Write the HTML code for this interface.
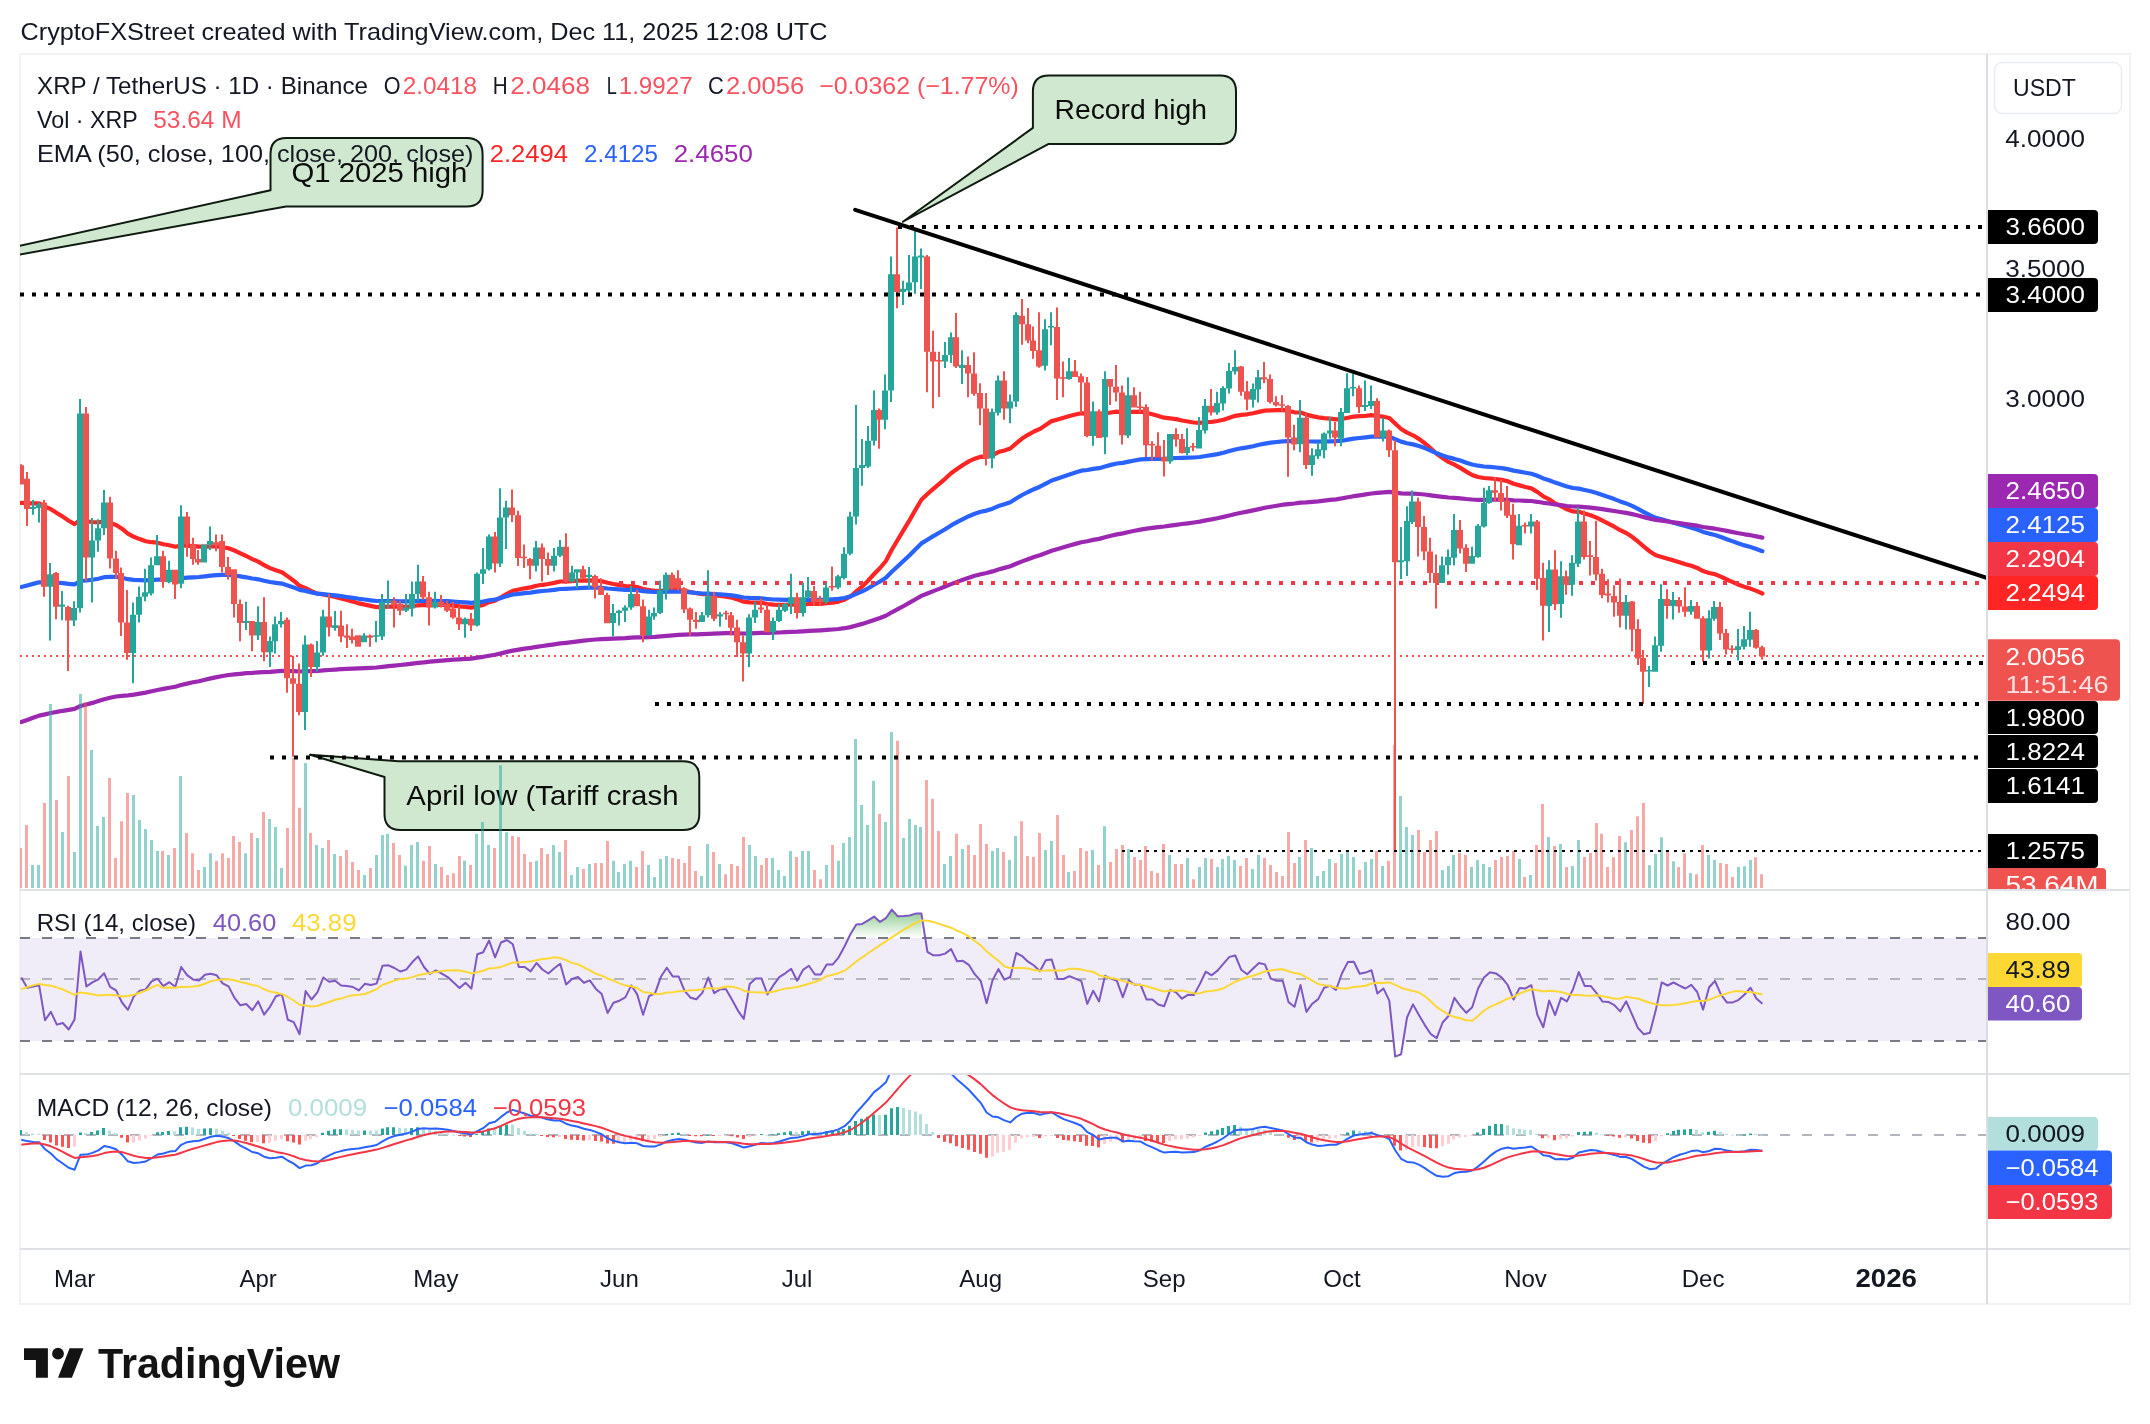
<!DOCTYPE html>
<html><head><meta charset="utf-8"><style>html,body{margin:0;padding:0;background:#fff;width:2150px;height:1424px;overflow:hidden}svg{display:block;will-change:transform}</style></head>
<body><svg width="2150" height="1424" viewBox="0 0 2150 1424" font-family='"Liberation Sans", sans-serif'>
<rect width="2150" height="1424" fill="#ffffff"/>
<defs>
<clipPath id="cpMain"><rect x="20" y="54" width="1966" height="835"/></clipPath>
<clipPath id="cpRsi"><rect x="20" y="891" width="1966" height="182"/></clipPath>
<clipPath id="cpMacd"><rect x="20" y="1075" width="1966" height="173"/></clipPath>
<linearGradient id="gOB" gradientUnits="userSpaceOnUse" x1="0" y1="894.6" x2="0" y2="938"><stop offset="0" stop-color="#4CAF50" stop-opacity="1"/><stop offset="1" stop-color="#4CAF50" stop-opacity="0"/></linearGradient>
<linearGradient id="gOS" x1="0" y1="0" x2="0" y2="1"><stop offset="0" stop-color="#F23645" stop-opacity="0"/><stop offset="1" stop-color="#F23645" stop-opacity="0.55"/></linearGradient>
</defs>
<text x="20.5" y="40.0" font-size="24" fill="#131722" textLength="807.0" lengthAdjust="spacingAndGlyphs">CryptoFXStreet created with TradingView.com, Dec 11, 2025 12:08 UTC</text>
<rect x="20" y="54" width="2110" height="1250" fill="none" stroke="#F2F2F2" stroke-width="2"/>
<rect x="20" y="889" width="2110" height="2" fill="#E0E1E6"/>
<rect x="20" y="1073" width="2110" height="2" fill="#E0E1E6"/>
<rect x="20" y="1248" width="2110" height="2" fill="#E0E1E6"/>
<rect x="1986" y="54" width="2" height="1250" fill="#DCDDE0"/>
<g clip-path="url(#cpMain)">
<path d="M310 754.7 L384.5 777 L384.5 814 Q384.5 830 400.5 830 L683.3 830 Q699.3 830 699.3 814 L699.3 777.2 Q699.3 761.2 683.3 761.2 L398.7 761.2 Z" fill="#D1E8D0" stroke="#0F1A10" stroke-width="2" stroke-linejoin="round"/>
<text x="406.3" y="805.0" font-size="28" fill="#0C0C0C" textLength="272.2" lengthAdjust="spacingAndGlyphs">April low (Tariff crash</text>
</g>
<g clip-path="url(#cpMain)">
<line x1="20" y1="656" x2="1986" y2="656" stroke="#EF5350" stroke-width="2" stroke-dasharray="2 4"/>
<polyline fill="none" stroke="#FF2525" stroke-width="4.2" stroke-linejoin="round" stroke-linecap="round" points="21.3,502.9 27.2,503.1 33.1,503.3 39.1,503.3 45.0,506.6 50.9,509.2 56.8,513.0 62.8,516.6 68.7,520.7 74.6,524.1 80.5,519.8 86.4,521.3 92.4,522.0 98.3,522.3 104.2,521.5 110.1,522.9 116.1,524.9 122.0,528.7 127.9,533.6 133.8,536.8 139.7,539.1 145.7,541.2 151.6,542.2 157.5,542.7 163.4,544.3 169.4,545.3 175.3,546.8 181.2,545.6 187.1,545.6 193.0,546.1 199.0,546.7 204.9,546.6 210.8,546.4 216.7,546.4 222.6,547.2 228.6,548.3 234.5,550.5 240.4,553.3 246.3,556.0 252.3,559.1 258.2,561.6 264.1,565.1 270.0,568.1 275.9,570.3 281.9,572.3 287.8,576.4 293.7,580.7 299.6,585.8 305.6,588.1 311.5,591.2 317.4,593.6 323.3,594.5 329.2,595.8 335.2,596.9 341.1,598.5 347.0,600.0 352.9,601.6 358.9,603.4 364.8,604.6 370.7,605.9 376.6,607.1 382.5,606.9 388.5,606.6 394.4,606.6 400.3,606.7 406.2,606.8 412.2,606.3 418.1,605.3 424.0,605.0 429.9,605.1 435.8,605.0 441.8,605.0 447.7,605.2 453.6,605.7 459.5,606.4 465.5,606.9 471.4,607.6 477.3,606.3 483.2,604.9 489.1,602.2 495.1,600.7 501.0,597.4 506.9,593.9 512.8,590.8 518.8,589.5 524.7,588.3 530.6,587.4 536.5,585.8 542.4,584.8 548.4,584.0 554.3,582.9 560.2,581.5 566.1,581.5 572.0,581.2 578.0,580.7 583.9,580.6 589.8,580.4 595.7,580.6 601.7,581.2 607.6,582.8 613.5,584.0 619.4,585.1 625.3,586.0 631.3,586.3 637.2,587.1 643.1,589.0 649.0,590.0 655.0,590.9 660.9,590.9 666.8,590.3 672.7,590.2 678.6,590.1 684.6,590.9 690.5,592.0 696.4,593.2 702.3,594.1 708.3,594.2 714.2,595.1 720.1,595.9 726.0,596.6 731.9,597.8 737.9,599.5 743.8,601.7 749.7,602.3 755.6,602.6 761.6,602.8 767.5,604.0 773.4,604.7 779.3,604.9 785.2,604.8 791.2,604.5 797.1,604.9 803.0,604.6 808.9,604.0 814.9,603.9 820.8,603.9 826.7,603.2 832.6,602.6 838.5,601.6 844.5,599.7 850.4,596.5 856.3,591.4 862.2,586.5 868.1,580.7 874.1,574.0 880.0,568.0 885.9,561.0 891.8,549.8 897.8,539.7 903.7,529.8 909.6,520.1 915.5,509.8 921.4,499.8 927.4,494.0 933.3,488.8 939.2,483.8 945.1,478.8 951.1,473.2 957.0,469.0 962.9,465.0 968.8,461.4 974.7,458.7 980.7,456.7 986.6,456.8 992.5,455.1 998.4,452.1 1004.4,450.4 1010.3,448.5 1016.2,443.3 1022.1,438.6 1028.0,434.8 1034.0,431.5 1039.9,428.9 1045.8,425.0 1051.7,421.1 1057.7,419.5 1063.6,417.8 1069.5,416.0 1075.4,414.5 1081.3,413.2 1087.3,414.1 1093.2,414.0 1099.1,415.0 1105.0,413.5 1110.9,412.5 1116.9,411.7 1122.8,412.6 1128.7,411.9 1134.6,411.8 1140.6,411.6 1146.5,412.9 1152.4,414.2 1158.3,415.9 1164.2,417.7 1170.2,418.3 1176.1,419.1 1182.0,420.5 1187.9,421.5 1193.9,422.5 1199.8,422.8 1205.7,422.2 1211.6,421.8 1217.5,421.0 1223.5,419.7 1229.4,417.8 1235.3,415.8 1241.2,414.9 1247.2,414.3 1253.1,413.3 1259.0,411.9 1264.9,410.6 1270.8,410.3 1276.8,410.1 1282.7,409.9 1288.6,411.0 1294.5,412.3 1300.5,412.5 1306.4,414.6 1312.3,416.1 1318.2,417.4 1324.1,418.1 1330.1,418.6 1336.0,419.3 1341.9,419.0 1347.8,417.8 1353.8,416.6 1359.7,416.2 1365.6,415.8 1371.5,415.2 1377.4,416.1 1383.4,416.7 1389.3,418.0 1395.2,423.6 1401.1,429.0 1407.0,432.6 1413.0,435.3 1418.9,438.9 1424.8,443.3 1430.7,448.4 1436.7,453.7 1442.6,458.1 1448.5,461.9 1454.4,464.6 1460.3,467.9 1466.3,471.6 1472.2,475.0 1478.1,477.0 1484.0,478.0 1490.0,478.5 1495.9,479.0 1501.8,479.9 1507.7,481.3 1513.6,483.8 1519.6,485.4 1525.5,487.0 1531.4,488.4 1537.3,491.9 1543.3,496.4 1549.2,499.3 1555.1,503.4 1561.0,506.2 1566.9,509.3 1572.9,511.4 1578.8,511.8 1584.7,513.6 1590.6,515.3 1596.6,517.6 1602.5,520.6 1608.4,523.6 1614.3,526.7 1620.2,530.2 1626.2,533.0 1632.1,536.8 1638.0,541.5 1643.9,546.7 1649.9,551.5 1655.8,555.2 1661.7,556.9 1667.6,558.8 1673.5,560.4 1679.5,562.2 1685.4,564.2 1691.3,565.8 1697.2,567.9 1703.1,571.1 1709.1,573.0 1715.0,574.3 1720.9,576.6 1726.8,579.5 1732.8,582.2 1738.7,584.7 1744.6,586.9 1750.5,588.6 1756.4,590.9 1762.4,593.5"/>
<polyline fill="none" stroke="#2962FF" stroke-width="4.2" stroke-linejoin="round" stroke-linecap="round" points="21.3,587.0 27.2,585.5 33.1,583.9 39.1,582.3 45.0,582.4 50.9,582.2 56.8,582.7 62.8,583.2 68.7,583.9 74.6,584.4 80.5,581.0 86.4,580.5 92.4,579.7 98.3,578.7 104.2,577.2 110.1,576.8 116.1,576.8 122.0,577.7 127.9,579.2 133.8,579.9 139.7,580.2 145.7,580.4 151.6,580.1 157.5,579.7 163.4,579.7 169.4,579.5 175.3,579.6 181.2,578.4 187.1,577.7 193.0,577.3 199.0,577.0 204.9,576.4 210.8,575.7 216.7,575.1 222.6,574.9 228.6,574.9 234.5,575.5 240.4,576.4 246.3,577.3 252.3,578.5 258.2,579.3 264.1,580.8 270.0,582.0 275.9,582.8 281.9,583.6 287.8,585.4 293.7,587.4 299.6,589.9 305.6,590.9 311.5,592.4 317.4,593.6 323.3,594.1 329.2,594.8 335.2,595.4 341.1,596.2 347.0,597.0 352.9,597.8 358.9,598.8 364.8,599.5 370.7,600.3 376.6,601.0 382.5,601.0 388.5,601.0 394.4,601.1 400.3,601.3 406.2,601.4 412.2,601.3 418.1,600.9 424.0,600.8 429.9,600.9 435.8,600.9 441.8,601.0 447.7,601.2 453.6,601.6 459.5,602.0 465.5,602.3 471.4,602.8 477.3,602.2 483.2,601.6 489.1,600.3 495.1,599.6 501.0,597.9 506.9,596.1 512.8,594.5 518.8,593.8 524.7,593.1 530.6,592.6 536.5,591.7 542.4,591.0 548.4,590.5 554.3,589.8 560.2,589.0 566.1,588.8 572.0,588.5 578.0,588.1 583.9,587.9 589.8,587.7 595.7,587.7 601.7,587.8 607.6,588.5 613.5,589.0 619.4,589.4 625.3,589.8 631.3,589.9 637.2,590.2 643.1,591.1 649.0,591.6 655.0,592.0 660.9,592.0 666.8,591.6 672.7,591.6 678.6,591.5 684.6,591.9 690.5,592.4 696.4,593.0 702.3,593.5 708.3,593.5 714.2,594.0 720.1,594.4 726.0,594.8 731.9,595.4 737.9,596.4 743.8,597.5 749.7,597.9 755.6,598.1 761.6,598.4 767.5,599.0 773.4,599.5 779.3,599.7 785.2,599.8 791.2,599.7 797.1,600.0 803.0,599.9 808.9,599.7 814.9,599.8 820.8,599.8 826.7,599.6 832.6,599.3 838.5,598.9 844.5,598.0 850.4,596.4 856.3,593.8 862.2,591.3 868.1,588.3 874.1,584.8 880.0,581.5 885.9,577.7 891.8,571.7 897.8,566.2 903.7,560.7 909.6,555.2 915.5,549.3 921.4,543.4 927.4,539.7 933.3,536.1 939.2,532.7 945.1,529.2 951.1,525.4 957.0,522.2 962.9,519.1 968.8,516.2 974.7,513.8 980.7,511.7 986.6,510.6 992.5,508.7 998.4,506.1 1004.4,504.2 1010.3,502.2 1016.2,498.5 1022.1,495.0 1028.0,492.0 1034.0,489.2 1039.9,486.7 1045.8,483.6 1051.7,480.5 1057.7,478.5 1063.6,476.5 1069.5,474.4 1075.4,472.5 1081.3,470.7 1087.3,470.0 1093.2,468.9 1099.1,468.2 1105.0,466.5 1110.9,464.9 1116.9,463.5 1122.8,462.9 1128.7,461.6 1134.6,460.5 1140.6,459.4 1146.5,459.2 1152.4,458.9 1158.3,458.9 1164.2,458.9 1170.2,458.4 1176.1,458.0 1182.0,457.9 1187.9,457.7 1193.9,457.5 1199.8,457.0 1205.7,456.0 1211.6,455.1 1217.5,454.1 1223.5,452.8 1229.4,451.1 1235.3,449.5 1241.2,448.3 1247.2,447.4 1253.1,446.2 1259.0,444.8 1264.9,443.6 1270.8,442.7 1276.8,442.0 1282.7,441.3 1288.6,441.2 1294.5,441.2 1300.5,440.8 1306.4,441.3 1312.3,441.5 1318.2,441.7 1324.1,441.5 1330.1,441.3 1336.0,441.2 1341.9,440.7 1347.8,439.6 1353.8,438.6 1359.7,438.0 1365.6,437.3 1371.5,436.6 1377.4,436.6 1383.4,436.5 1389.3,436.8 1395.2,439.2 1401.1,441.6 1407.0,443.2 1413.0,444.4 1418.9,446.0 1424.8,448.1 1430.7,450.6 1436.7,453.2 1442.6,455.4 1448.5,457.4 1454.4,458.9 1460.3,460.6 1466.3,462.7 1472.2,464.5 1478.1,465.7 1484.0,466.5 1490.0,466.9 1495.9,467.5 1501.8,468.1 1507.7,469.1 1513.6,470.6 1519.6,471.6 1525.5,472.7 1531.4,473.7 1537.3,475.8 1543.3,478.4 1549.2,480.2 1555.1,482.6 1561.0,484.5 1566.9,486.5 1572.9,488.0 1578.8,488.6 1584.7,490.0 1590.6,491.3 1596.6,493.0 1602.5,495.0 1608.4,497.0 1614.3,499.1 1620.2,501.4 1626.2,503.4 1632.1,505.9 1638.0,508.9 1643.9,512.1 1649.9,515.2 1655.8,517.8 1661.7,519.4 1667.6,521.1 1673.5,522.7 1679.5,524.4 1685.4,526.1 1691.3,527.7 1697.2,529.5 1703.1,531.9 1709.1,533.6 1715.0,535.0 1720.9,537.0 1726.8,539.2 1732.8,541.4 1738.7,543.5 1744.6,545.4 1750.5,547.0 1756.4,549.0 1762.4,551.2"/>
<polyline fill="none" stroke="#9C27B0" stroke-width="4.2" stroke-linejoin="round" stroke-linecap="round" points="21.3,722.0 27.2,719.9 33.1,717.8 39.1,715.6 45.0,714.4 50.9,713.0 56.8,711.9 62.8,710.8 68.7,709.9 74.6,708.9 80.5,706.0 86.4,704.5 92.4,702.9 98.3,701.1 104.2,699.2 110.1,697.8 116.1,696.5 122.0,695.8 127.9,695.4 133.8,694.6 139.7,693.6 145.7,692.6 151.6,691.3 157.5,690.0 163.4,688.9 169.4,687.7 175.3,686.7 181.2,685.0 187.1,683.6 193.0,682.3 199.0,681.2 204.9,679.8 210.8,678.4 216.7,677.1 222.6,676.0 228.6,675.0 234.5,674.3 240.4,673.8 246.3,673.2 252.3,672.9 258.2,672.4 264.1,672.2 270.0,671.9 275.9,671.4 281.9,670.9 287.8,671.0 293.7,671.1 299.6,671.5 305.6,671.2 311.5,671.2 317.4,671.0 323.3,670.4 329.2,670.0 335.2,669.6 341.1,669.2 347.0,668.9 352.9,668.6 358.9,668.4 364.8,668.1 370.7,667.8 376.6,667.5 382.5,666.8 388.5,666.2 394.4,665.6 400.3,665.0 406.2,664.4 412.2,663.7 418.1,662.9 424.0,662.3 429.9,661.7 435.8,661.1 441.8,660.6 447.7,660.1 453.6,659.7 459.5,659.3 465.5,658.9 471.4,658.6 477.3,657.7 483.2,656.8 489.1,655.7 495.1,654.7 501.0,653.4 506.9,651.9 512.8,650.6 518.8,649.6 524.7,648.7 530.6,647.9 536.5,646.9 542.4,646.0 548.4,645.2 554.3,644.3 560.2,643.4 566.1,642.8 572.0,642.1 578.0,641.3 583.9,640.7 589.8,640.0 595.7,639.5 601.7,639.1 607.6,638.9 613.5,638.7 619.4,638.4 625.3,638.1 631.3,637.6 637.2,637.3 643.1,637.3 649.0,637.1 655.0,636.9 660.9,636.4 666.8,635.8 672.7,635.3 678.6,634.8 684.6,634.6 690.5,634.4 696.4,634.3 702.3,634.1 708.3,633.8 714.2,633.6 720.1,633.4 726.0,633.2 731.9,633.2 737.9,633.3 743.8,633.5 749.7,633.3 755.6,633.1 761.6,632.8 767.5,632.8 773.4,632.7 779.3,632.5 785.2,632.2 791.2,631.8 797.1,631.7 803.0,631.3 808.9,630.9 814.9,630.6 820.8,630.3 826.7,629.9 832.6,629.5 838.5,629.0 844.5,628.2 850.4,627.1 856.3,625.5 862.2,623.9 868.1,622.1 874.1,620.0 880.0,618.0 885.9,615.7 891.8,612.3 897.8,609.2 903.7,606.0 909.6,602.7 915.5,599.3 921.4,595.9 927.4,593.5 933.3,591.1 939.2,588.9 945.1,586.5 951.1,584.1 957.0,581.9 962.9,579.7 968.8,577.7 974.7,575.8 980.7,574.2 986.6,573.0 992.5,571.4 998.4,569.5 1004.4,567.9 1010.3,566.3 1016.2,563.8 1022.1,561.4 1028.0,559.2 1034.0,557.1 1039.9,555.2 1045.8,553.0 1051.7,550.7 1057.7,549.0 1063.6,547.3 1069.5,545.5 1075.4,543.9 1081.3,542.3 1087.3,541.2 1093.2,539.9 1099.1,538.9 1105.0,537.3 1110.9,535.8 1116.9,534.4 1122.8,533.4 1128.7,532.0 1134.6,530.8 1140.6,529.6 1146.5,528.7 1152.4,527.9 1158.3,527.2 1164.2,526.5 1170.2,525.6 1176.1,524.8 1182.0,524.0 1187.9,523.3 1193.9,522.5 1199.8,521.6 1205.7,520.4 1211.6,519.4 1217.5,518.2 1223.5,516.9 1229.4,515.5 1235.3,514.0 1241.2,512.8 1247.2,511.6 1253.1,510.4 1259.0,509.1 1264.9,507.8 1270.8,506.8 1276.8,505.7 1282.7,504.7 1288.6,504.1 1294.5,503.5 1300.5,502.6 1306.4,502.3 1312.3,501.8 1318.2,501.3 1324.1,500.6 1330.1,499.9 1336.0,499.3 1341.9,498.4 1347.8,497.3 1353.8,496.2 1359.7,495.3 1365.6,494.4 1371.5,493.5 1377.4,492.9 1383.4,492.3 1389.3,491.9 1395.2,492.6 1401.1,493.3 1407.0,493.6 1413.0,493.6 1418.9,494.0 1424.8,494.5 1430.7,495.3 1436.7,496.2 1442.6,496.9 1448.5,497.5 1454.4,497.8 1460.3,498.3 1466.3,499.0 1472.2,499.5 1478.1,499.8 1484.0,499.8 1490.0,499.7 1495.9,499.7 1501.8,499.7 1507.7,499.8 1513.6,500.3 1519.6,500.5 1525.5,500.8 1531.4,501.0 1537.3,501.8 1543.3,502.8 1549.2,503.5 1555.1,504.5 1561.0,505.2 1566.9,506.0 1572.9,506.5 1578.8,506.7 1584.7,507.2 1590.6,507.7 1596.6,508.4 1602.5,509.2 1608.4,510.1 1614.3,511.0 1620.2,512.0 1626.2,512.9 1632.1,514.1 1638.0,515.5 1643.9,517.1 1649.9,518.6 1655.8,519.9 1661.7,520.6 1667.6,521.5 1673.5,522.3 1679.5,523.1 1685.4,524.0 1691.3,524.8 1697.2,525.7 1703.1,527.0 1709.1,527.9 1715.0,528.7 1720.9,529.7 1726.8,530.9 1732.8,532.1 1738.7,533.2 1744.6,534.3 1750.5,535.2 1756.4,536.4 1762.4,537.6"/>
<path fill="#26A69A" fill-opacity="0.5" d="M31 864.9h3v23.1h-3zM37 864.9h3v23.1h-3zM49 704.0h3v184.0h-3zM61 832.0h3v56.0h-3zM73 851.9h3v36.1h-3zM79 694.1h3v193.9h-3zM90 749.9h3v138.1h-3zM96 825.8h3v62.2h-3zM102 817.1h3v70.9h-3zM132 795.1h3v92.9h-3zM138 819.9h3v68.1h-3zM144 829.0h3v59.0h-3zM150 840.1h3v47.9h-3zM156 850.9h3v37.1h-3zM167 855.0h3v33.0h-3zM179 776.0h3v112.0h-3zM203 867.1h3v20.9h-3zM209 853.2h3v34.8h-3zM244 853.2h3v34.8h-3zM256 837.9h3v50.1h-3zM268 818.9h3v69.1h-3zM274 827.1h3v60.9h-3zM280 868.0h3v20.0h-3zM304 763.1h3v124.9h-3zM315 845.0h3v43.0h-3zM321 848.1h3v39.9h-3zM333 854.1h3v33.9h-3zM363 875.1h3v12.9h-3zM375 855.0h3v33.0h-3zM381 835.1h3v52.9h-3zM386 833.8h3v54.2h-3zM404 865.8h3v22.2h-3zM410 845.0h3v43.0h-3zM416 842.0h3v46.0h-3zM434 864.0h3v24.0h-3zM463 860.8h3v27.2h-3zM475 833.8h3v54.2h-3zM481 822.1h3v65.9h-3zM487 845.0h3v43.0h-3zM499 765.3h3v122.7h-3zM505 832.3h3v55.7h-3zM535 860.8h3v27.2h-3zM552 845.0h3v43.0h-3zM558 851.9h3v36.1h-3zM570 875.1h3v12.9h-3zM576 867.1h3v20.9h-3zM588 864.0h3v24.0h-3zM612 860.8h3v27.2h-3zM617 872.0h3v16.0h-3zM623 864.0h3v24.0h-3zM629 860.8h3v27.2h-3zM647 864.9h3v23.1h-3zM653 877.0h3v11.0h-3zM659 858.9h3v29.1h-3zM665 856.0h3v32.0h-3zM700 876.0h3v12.0h-3zM706 843.9h3v44.1h-3zM718 864.0h3v24.0h-3zM748 845.0h3v43.0h-3zM754 856.0h3v32.0h-3zM771 858.0h3v30.0h-3zM777 870.1h3v17.9h-3zM783 876.0h3v12.0h-3zM789 850.9h3v37.1h-3zM801 850.9h3v37.1h-3zM807 850.9h3v37.1h-3zM825 864.9h3v23.1h-3zM837 860.8h3v27.2h-3zM842 842.9h3v45.1h-3zM848 837.0h3v51.0h-3zM854 738.9h3v149.1h-3zM860 805.0h3v83.0h-3zM866 824.9h3v63.1h-3zM872 780.8h3v107.2h-3zM884 822.1h3v65.9h-3zM890 731.9h3v156.1h-3zM902 837.9h3v50.1h-3zM908 818.9h3v69.1h-3zM914 824.9h3v63.1h-3zM919 827.1h3v60.9h-3zM943 864.0h3v24.0h-3zM949 856.0h3v32.0h-3zM961 849.1h3v38.9h-3zM991 850.9h3v37.1h-3zM996 848.1h3v39.9h-3zM1008 859.9h3v28.1h-3zM1014 836.0h3v52.0h-3zM1044 850.0h3v38.0h-3zM1050 841.1h3v46.9h-3zM1067 872.0h3v16.0h-3zM1091 850.0h3v38.0h-3zM1103 826.2h3v61.8h-3zM1127 849.1h3v38.9h-3zM1168 855.0h3v33.0h-3zM1186 858.0h3v30.0h-3zM1198 867.1h3v20.9h-3zM1204 858.0h3v30.0h-3zM1216 867.1h3v20.9h-3zM1221 858.9h3v29.1h-3zM1227 856.0h3v32.0h-3zM1233 859.9h3v28.1h-3zM1251 869.0h3v19.0h-3zM1257 855.0h3v33.0h-3zM1298 857.1h3v30.9h-3zM1310 848.1h3v39.9h-3zM1316 876.0h3v12.0h-3zM1322 871.0h3v17.0h-3zM1328 858.9h3v29.1h-3zM1340 854.1h3v33.9h-3zM1346 851.9h3v36.1h-3zM1352 857.1h3v30.9h-3zM1364 862.1h3v25.9h-3zM1370 858.9h3v29.1h-3zM1381 866.0h3v22.0h-3zM1399 796.0h3v92.0h-3zM1405 827.1h3v60.9h-3zM1411 835.1h3v52.9h-3zM1441 870.1h3v17.9h-3zM1447 866.0h3v22.0h-3zM1452 855.0h3v33.0h-3zM1470 867.1h3v20.9h-3zM1476 859.9h3v28.1h-3zM1482 864.0h3v24.0h-3zM1488 867.1h3v20.9h-3zM1518 858.9h3v29.1h-3zM1529 875.1h3v12.9h-3zM1547 837.0h3v51.0h-3zM1559 843.9h3v44.1h-3zM1571 866.0h3v22.0h-3zM1577 840.0h3v48.0h-3zM1624 842.3h3v45.7h-3zM1648 865.2h3v22.8h-3zM1654 854.1h3v33.9h-3zM1660 837.3h3v50.7h-3zM1672 861.2h3v26.8h-3zM1689 873.1h3v14.9h-3zM1707 855.1h3v32.9h-3zM1713 860.0h3v28.0h-3zM1737 867.1h3v20.9h-3zM1743 866.2h3v21.8h-3zM1749 860.0h3v28.0h-3z"/>
<path fill="#EF5350" fill-opacity="0.5" d="M19 848.1h3v39.9h-3zM25 824.9h3v63.1h-3zM43 803.1h3v84.9h-3zM55 800.1h3v87.9h-3zM67 776.0h3v112.0h-3zM84 702.1h3v185.9h-3zM108 778.0h3v110.0h-3zM114 858.0h3v30.0h-3zM120 821.2h3v66.8h-3zM126 792.9h3v95.1h-3zM161 850.9h3v37.1h-3zM173 848.1h3v39.9h-3zM185 832.9h3v55.1h-3zM191 853.2h3v34.8h-3zM197 870.1h3v17.9h-3zM215 860.8h3v27.2h-3zM221 853.2h3v34.8h-3zM227 858.0h3v30.0h-3zM232 836.0h3v52.0h-3zM238 842.0h3v46.0h-3zM250 832.9h3v55.1h-3zM262 811.9h3v76.1h-3zM286 828.0h3v60.0h-3zM292 757.9h3v130.1h-3zM298 807.8h3v80.2h-3zM309 832.9h3v55.1h-3zM327 840.1h3v47.9h-3zM339 856.1h3v31.9h-3zM345 850.0h3v38.0h-3zM351 862.1h3v25.9h-3zM357 870.1h3v17.9h-3zM369 868.0h3v20.0h-3zM392 842.9h3v45.1h-3zM398 855.0h3v33.0h-3zM422 860.8h3v27.2h-3zM428 845.9h3v42.1h-3zM440 867.1h3v20.9h-3zM446 875.1h3v12.9h-3zM452 873.3h3v14.7h-3zM458 856.0h3v32.0h-3zM469 864.9h3v23.1h-3zM493 848.1h3v39.9h-3zM511 836.0h3v52.0h-3zM517 837.0h3v51.0h-3zM523 854.1h3v33.9h-3zM529 862.1h3v25.9h-3zM540 848.1h3v39.9h-3zM546 854.1h3v33.9h-3zM564 840.1h3v47.9h-3zM582 869.0h3v19.0h-3zM594 863.0h3v25.0h-3zM600 863.0h3v25.0h-3zM606 841.1h3v46.9h-3zM635 867.1h3v20.9h-3zM641 850.9h3v37.1h-3zM671 858.0h3v30.0h-3zM677 858.9h3v29.1h-3zM683 863.0h3v25.0h-3zM688 845.9h3v42.1h-3zM694 871.0h3v17.0h-3zM712 851.9h3v36.1h-3zM724 874.2h3v13.8h-3zM730 864.0h3v24.0h-3zM736 866.0h3v22.0h-3zM742 837.0h3v51.0h-3zM760 864.9h3v23.1h-3zM765 858.0h3v30.0h-3zM795 857.1h3v30.9h-3zM813 870.1h3v17.9h-3zM819 879.2h3v8.8h-3zM831 845.0h3v43.0h-3zM878 814.1h3v73.9h-3zM896 740.8h3v147.2h-3zM925 779.9h3v108.1h-3zM931 798.8h3v89.2h-3zM937 831.0h3v57.0h-3zM955 833.8h3v54.2h-3zM967 845.0h3v43.0h-3zM973 855.0h3v33.0h-3zM979 824.0h3v64.0h-3zM985 843.9h3v44.1h-3zM1002 851.9h3v36.1h-3zM1020 821.2h3v66.8h-3zM1026 856.0h3v32.0h-3zM1032 857.1h3v30.9h-3zM1038 832.9h3v55.1h-3zM1056 815.0h3v73.0h-3zM1062 855.0h3v33.0h-3zM1073 871.0h3v17.0h-3zM1079 848.1h3v39.9h-3zM1085 850.9h3v37.1h-3zM1097 864.9h3v23.1h-3zM1109 862.1h3v25.9h-3zM1115 849.1h3v38.9h-3zM1121 845.0h3v43.0h-3zM1133 857.1h3v30.9h-3zM1139 859.9h3v28.1h-3zM1144 845.9h3v42.1h-3zM1150 871.0h3v17.0h-3zM1156 872.9h3v15.1h-3zM1162 843.9h3v44.1h-3zM1174 864.0h3v24.0h-3zM1180 864.0h3v24.0h-3zM1192 879.2h3v8.8h-3zM1210 858.9h3v29.1h-3zM1239 866.0h3v22.0h-3zM1245 858.0h3v30.0h-3zM1263 858.0h3v30.0h-3zM1269 864.9h3v23.1h-3zM1275 872.0h3v16.0h-3zM1281 876.0h3v12.0h-3zM1287 832.0h3v56.0h-3zM1293 863.0h3v25.0h-3zM1304 840.0h3v48.0h-3zM1334 863.0h3v25.0h-3zM1358 870.1h3v17.9h-3zM1375 850.9h3v37.1h-3zM1387 860.8h3v27.2h-3zM1393 744.9h3v143.1h-3zM1417 829.9h3v58.1h-3zM1423 851.9h3v36.1h-3zM1429 840.0h3v48.0h-3zM1435 831.0h3v57.0h-3zM1458 853.0h3v35.0h-3zM1464 855.0h3v33.0h-3zM1494 859.9h3v28.1h-3zM1500 857.1h3v30.9h-3zM1506 856.0h3v32.0h-3zM1512 850.9h3v37.1h-3zM1523 877.0h3v11.0h-3zM1535 845.0h3v43.0h-3zM1541 803.9h3v84.1h-3zM1553 845.9h3v42.1h-3zM1565 867.1h3v20.9h-3zM1583 857.1h3v30.9h-3zM1589 853.0h3v35.0h-3zM1595 823.0h3v65.0h-3zM1600 833.8h3v54.2h-3zM1606 867.1h3v20.9h-3zM1612 857.2h3v30.8h-3zM1618 836.1h3v51.9h-3zM1630 830.1h3v57.9h-3zM1636 816.2h3v71.8h-3zM1642 803.1h3v84.9h-3zM1666 850.0h3v38.0h-3zM1677 867.1h3v20.9h-3zM1683 853.2h3v34.8h-3zM1695 874.2h3v13.8h-3zM1701 845.1h3v42.9h-3zM1719 863.0h3v25.0h-3zM1725 864.0h3v24.0h-3zM1731 877.1h3v10.9h-3zM1754 857.2h3v30.8h-3zM1760 874.2h3v13.8h-3z"/>
<line x1="619" y1="583" x2="1986" y2="583" stroke="#F23645" stroke-width="4" stroke-dasharray="4 8"/>
<path fill="#26A69A" d="M30 506.9h6v2.2h-6z M32 500.1h2v14.6h-2zM36 504.2h6v3.8h-6z M38 502.4h2v20.2h-2zM47 574.3h6v12.4h-6z M49 563.0h2v77.5h-2zM59 604.6h6v2.2h-6z M61 591.1h2v29.2h-2zM71 608.0h6v12.4h-6z M73 601.2h2v24.7h-2zM77 413.6h6v194.4h-6z M79 399.0h2v213.5h-2zM89 540.6h6v16.9h-6z M91 518.1h2v84.3h-2zM95 528.2h6v12.4h-6z M97 519.2h2v32.6h-2zM101 502.4h6v25.8h-6z M103 490.0h2v44.9h-2zM130 614.7h6v38.2h-6z M132 602.4h2v80.9h-2zM136 596.7h6v18.0h-6z M138 586.6h2v36.0h-2zM142 592.2h6v4.5h-6z M144 568.7h2v32.6h-2zM148 565.3h6v28.1h-6z M150 557.4h2v38.2h-2zM154 556.3h6v9.0h-6z M156 534.9h2v30.3h-2zM166 569.8h6v12.4h-6z M168 560.8h2v22.5h-2zM178 516.4h6v67.4h-6z M180 505.2h2v83.1h-2zM201 544.5h6v18.0h-6z M203 544.5h2v18.0h-2zM207 541.1h6v3.4h-6z M209 526.5h2v23.6h-2zM243 620.9h6v2.2h-6z M245 601.8h2v28.1h-2zM255 622.0h6v13.5h-6z M257 606.3h2v33.7h-2zM267 641.1h6v11.2h-6z M269 636.6h2v30.3h-2zM272 624.3h6v16.9h-6z M274 616.4h2v37.1h-2zM278 620.9h6v3.4h-6z M280 611.9h2v15.7h-2zM302 644.5h6v67.4h-6z M304 635.5h2v94.4h-2zM314 652.4h6v14.6h-6z M316 641.1h2v30.3h-2zM320 616.4h6v36.0h-6z M322 609.7h2v46.1h-2zM332 625.2h6v2.7h-6z M334 611.0h2v19.8h-2zM361 635.5h6v6.7h-6z M363 633.3h2v9.0h-2zM373 635.3h6v1.5h-6z M375 620.9h2v21.3h-2zM379 601.8h6v34.8h-6z M381 593.9h2v46.1h-2zM385 600.5h6v1.5h-6z M387 580.4h2v28.1h-2zM403 607.4h6v3.4h-6z M405 593.9h2v18.0h-2zM409 593.9h6v14.6h-6z M411 581.6h2v34.8h-2zM415 581.6h6v12.4h-6z M417 564.7h2v36.0h-2zM432 601.8h6v5.6h-6z M434 591.7h2v16.9h-2zM462 618.7h6v5.6h-6z M464 617.5h2v20.2h-2zM474 573.7h6v51.7h-6z M476 572.6h2v53.9h-2zM480 569.2h6v4.5h-6z M482 547.9h2v36.0h-2zM486 536.6h6v32.6h-6z M488 534.4h2v36.0h-2zM497 517.5h6v46.1h-6z M499 488.3h2v78.7h-2zM503 507.4h6v10.1h-6z M505 500.7h2v48.3h-2zM533 547.4h6v18.4h-6z M535 541.1h2v30.3h-2zM551 555.7h6v10.1h-6z M553 547.9h2v23.6h-2zM557 546.7h6v9.0h-6z M559 540.0h2v16.9h-2zM569 572.6h6v9.0h-6z M571 565.8h2v16.9h-2zM574 569.2h6v3.4h-6z M576 569.2h2v19.1h-2zM586 574.8h6v2.2h-6z M588 567.0h2v21.3h-2zM610 613.0h6v10.1h-6z M612 604.0h2v32.6h-2zM616 610.8h6v2.2h-6z M618 609.7h2v15.7h-2zM622 607.4h6v3.4h-6z M624 605.2h2v16.9h-2zM628 593.9h6v13.5h-6z M630 586.1h2v23.6h-2zM646 616.4h6v19.1h-6z M648 609.7h2v25.8h-2zM651 613.0h6v3.4h-6z M653 607.4h2v12.4h-2zM657 590.6h6v22.5h-6z M659 580.4h2v33.7h-2zM663 574.8h6v15.7h-6z M665 572.6h2v27.0h-2zM699 615.3h6v6.7h-6z M701 611.9h2v10.1h-2zM705 596.2h6v19.1h-6z M707 570.3h2v47.2h-2zM717 614.2h6v2.2h-6z M719 611.9h2v14.6h-2zM746 617.5h6v36.0h-6z M748 614.2h2v52.8h-2zM752 609.7h6v7.9h-6z M754 601.8h2v21.3h-2zM770 620.9h6v11.2h-6z M772 617.5h2v22.5h-2zM776 609.7h6v11.2h-6z M778 604.0h2v18.0h-2zM782 604.0h6v6.7h-6z M784 602.9h2v9.0h-2zM788 597.3h6v6.7h-6z M790 573.7h2v40.4h-2zM800 597.3h6v15.7h-6z M802 582.7h2v33.7h-2zM805 590.6h6v6.7h-6z M807 577.1h2v21.3h-2zM823 587.6h6v14.5h-6z M825 582.8h2v21.0h-2zM835 576.3h6v11.3h-6z M837 574.7h2v14.5h-2zM841 553.7h6v24.2h-6z M843 547.3h2v32.3h-2zM847 516.6h6v37.1h-6z M849 511.7h2v43.6h-2zM853 468.1h6v48.5h-6z M855 405.1h2v119.5h-2zM859 464.9h6v3.2h-6z M861 439.0h2v46.8h-2zM865 440.7h6v25.8h-6z M867 426.1h2v42.0h-2zM871 410.0h6v30.7h-6z M873 390.6h2v54.9h-2zM882 390.6h6v29.1h-6z M884 374.4h2v54.9h-2zM888 274.3h6v116.3h-6z M890 256.5h2v145.4h-2zM900 288.8h6v3.2h-6z M902 280.8h2v24.2h-2zM906 282.4h6v8.1h-6z M908 254.9h2v42.0h-2zM912 256.5h6v25.8h-6z M914 230.7h2v63.0h-2zM918 255.6h6v1.9h-6z M920 248.5h2v40.4h-2zM942 355.1h6v6.5h-6z M944 342.1h2v25.8h-2zM948 337.3h6v17.8h-6z M950 332.4h2v30.7h-2zM959 364.7h6v3.2h-6z M961 350.2h2v33.9h-2zM989 412.0h6v46.4h-6z M991 408.5h2v59.7h-2zM995 380.4h6v32.3h-6z M997 375.5h2v40.0h-2zM1007 401.5h6v7.0h-6z M1009 394.5h2v28.8h-2zM1013 315.1h6v86.4h-6z M1015 312.3h2v94.8h-2zM1042 329.2h6v36.5h-6z M1044 319.3h2v51.3h-2zM1048 326.0h6v1.5h-6z M1050 312.3h2v33.0h-2zM1066 371.3h6v7.7h-6z M1068 358.0h2v21.8h-2zM1090 411.3h6v24.6h-6z M1092 401.5h2v44.2h-2zM1102 379.0h6v58.3h-6z M1104 371.3h2v82.9h-2zM1125 395.2h6v40.4h-6z M1127 377.2h2v60.7h-2zM1167 433.9h6v27.5h-6z M1169 433.9h2v29.8h-2zM1184 446.9h6v6.2h-6z M1186 428.3h2v27.0h-2zM1196 430.0h6v18.5h-6z M1198 417.1h2v31.5h-2zM1202 405.8h6v24.7h-6z M1204 399.1h2v34.3h-2zM1214 403.0h6v9.6h-6z M1216 391.8h2v23.0h-2zM1220 387.9h6v15.7h-6z M1222 386.2h2v24.2h-2zM1226 371.0h6v17.4h-6z M1228 363.1h2v30.3h-2zM1232 367.1h6v4.5h-6z M1234 350.2h2v24.2h-2zM1250 389.0h6v10.7h-6z M1252 383.4h2v24.2h-2zM1255 377.2h6v12.4h-6z M1257 369.9h2v32.6h-2zM1297 417.8h6v26.5h-6z M1299 400.1h2v52.1h-2zM1309 455.2h6v9.8h-6z M1311 448.3h2v27.5h-2zM1315 449.3h6v6.9h-6z M1317 442.4h2v16.7h-2zM1321 433.5h6v16.7h-6z M1323 432.6h2v25.6h-2zM1327 430.6h6v2.9h-6z M1329 416.8h2v21.6h-2zM1338 411.9h6v26.5h-6z M1340 408.0h2v38.3h-2zM1344 388.3h6v24.6h-6z M1346 373.2h2v39.7h-2zM1350 387.1h6v1.5h-6z M1352 373.6h2v22.6h-2zM1362 405.0h6v2.0h-6z M1364 380.5h2v30.5h-2zM1368 401.1h6v4.9h-6z M1370 385.4h2v23.6h-2zM1380 430.6h6v6.9h-6z M1382 417.8h2v23.6h-2zM1398 560.3h6v2.0h-6z M1400 526.9h2v52.1h-2zM1404 521.0h6v40.3h-6z M1406 506.3h2v69.8h-2zM1409 501.4h6v20.6h-6z M1411 490.5h2v33.4h-2zM1439 565.2h6v17.7h-6z M1441 556.4h2v26.5h-2zM1445 556.9h6v8.4h-6z M1447 549.4h2v25.3h-2zM1451 530.0h6v27.8h-6z M1453 514.0h2v51.4h-2zM1469 556.1h6v7.6h-6z M1471 546.8h2v16.9h-2zM1475 525.8h6v31.2h-6z M1477 524.1h2v33.7h-2zM1481 503.0h6v23.6h-6z M1483 487.8h2v39.6h-2zM1486 490.3h6v12.6h-6z M1488 486.1h2v17.7h-2zM1516 525.8h6v19.4h-6z M1518 514.0h2v31.2h-2zM1528 521.5h6v5.1h-6z M1530 514.0h2v19.4h-2zM1546 569.6h6v36.3h-6z M1548 560.3h2v71.7h-2zM1558 576.3h6v27.8h-6z M1560 561.2h2v56.5h-2zM1569 562.8h6v21.9h-6z M1571 555.3h2v40.5h-2zM1575 521.5h6v42.2h-6z M1577 507.2h2v59.9h-2zM1623 602.0h6v13.8h-6z M1625 595.1h2v34.4h-2zM1646 670.0h6v1.5h-6z M1648 665.9h2v21.1h-2zM1652 645.2h6v26.5h-6z M1654 636.4h2v35.4h-2zM1658 599.0h6v46.7h-6z M1660 584.3h2v67.4h-2zM1670 600.0h6v5.9h-6z M1672 592.1h2v27.5h-2zM1688 605.9h6v5.9h-6z M1690 600.0h2v14.7h-2zM1706 618.2h6v32.4h-6z M1708 610.3h2v48.2h-2zM1711 606.9h6v11.8h-6z M1713 601.0h2v19.7h-2zM1735 646.2h6v3.9h-6z M1737 629.0h2v31.5h-2zM1741 639.3h6v7.4h-6z M1743 626.0h2v23.6h-2zM1747 630.0h6v9.8h-6z M1749 611.8h2v34.9h-2z"/>
<path fill="#EF5350" d="M18 465.3h6v19.1h-6z M20 464.2h2v20.2h-2zM24 478.8h6v30.3h-6z M26 472.0h2v53.9h-2zM41 502.4h6v84.3h-6z M43 500.1h2v96.6h-2zM53 573.1h6v33.7h-6z M55 572.0h2v47.2h-2zM65 606.9h6v13.5h-6z M67 605.7h2v65.2h-2zM83 413.6h6v143.8h-6z M85 406.9h2v174.2h-2zM107 502.4h6v56.2h-6z M109 496.7h2v71.9h-2zM113 558.5h6v14.6h-6z M115 550.7h2v28.1h-2zM118 573.1h6v49.4h-6z M120 567.5h2v68.5h-2zM124 622.6h6v30.3h-6z M126 590.0h2v69.7h-2zM160 556.3h6v25.8h-6z M162 550.7h2v37.1h-2zM172 569.8h6v14.6h-6z M174 569.8h2v29.2h-2zM184 516.4h6v28.1h-6z M186 511.9h2v44.9h-2zM190 544.5h6v14.6h-6z M192 537.8h2v27.0h-2zM195 559.1h6v3.4h-6z M197 550.1h2v14.6h-2zM213 542.2h6v3.4h-6z M215 534.4h2v16.9h-2zM219 541.1h6v25.8h-6z M221 534.4h2v38.2h-2zM225 567.0h6v7.9h-6z M227 556.9h2v22.5h-2zM231 569.2h6v34.8h-6z M233 569.2h2v48.3h-2zM237 604.0h6v19.1h-6z M239 599.6h2v41.6h-2zM249 620.9h6v14.6h-6z M251 620.9h2v30.3h-2zM261 622.0h6v30.3h-6z M263 597.3h2v64.0h-2zM284 619.8h6v58.4h-6z M286 617.5h2v75.3h-2zM290 678.2h6v5.6h-6z M292 655.7h2v101.1h-2zM296 683.8h6v28.1h-6z M298 663.6h2v51.7h-2zM308 644.5h6v22.5h-6z M310 643.4h2v33.7h-2zM326 616.4h6v11.2h-6z M328 593.9h2v42.7h-2zM338 625.4h6v11.2h-6z M340 610.8h2v31.5h-2zM344 635.5h6v2.2h-6z M346 624.3h2v23.6h-2zM349 636.6h6v3.4h-6z M351 628.8h2v14.6h-2zM355 635.3h6v11.5h-6z M357 635.3h2v11.5h-2zM367 635.5h6v2.2h-6z M369 634.4h2v12.4h-2zM391 600.7h6v4.5h-6z M393 597.3h2v30.3h-2zM397 604.0h6v6.7h-6z M399 600.7h2v14.6h-2zM420 581.6h6v15.7h-6z M422 576.0h2v23.6h-2zM426 597.3h6v10.1h-6z M428 591.7h2v33.7h-2zM438 601.8h6v4.5h-6z M440 595.1h2v12.4h-2zM444 604.0h6v6.7h-6z M446 600.7h2v11.2h-2zM450 608.5h6v9.0h-6z M452 601.8h2v16.9h-2zM456 617.5h6v6.7h-6z M458 606.3h2v23.6h-2zM468 618.7h6v6.7h-6z M470 613.0h2v18.0h-2zM492 536.6h6v27.0h-6z M494 532.1h2v40.4h-2zM509 507.4h6v7.9h-6z M511 489.4h2v32.6h-2zM515 515.3h6v42.7h-6z M517 510.8h2v55.1h-2zM521 556.7h6v1.5h-6z M523 544.5h2v23.6h-2zM527 559.1h6v6.7h-6z M529 558.0h2v21.3h-2zM539 547.4h6v11.7h-6z M541 543.4h2v38.2h-2zM545 559.1h6v6.7h-6z M547 552.4h2v22.5h-2zM563 546.7h6v34.8h-6z M565 533.3h2v50.6h-2zM580 569.2h6v9.0h-6z M582 565.8h2v13.5h-2zM592 576.0h6v11.2h-6z M594 574.8h2v23.6h-2zM598 587.2h6v7.9h-6z M600 578.2h2v16.9h-2zM604 595.1h6v28.1h-6z M606 592.8h2v30.3h-2zM634 593.9h6v12.4h-6z M636 589.4h2v16.9h-2zM640 606.3h6v29.2h-6z M642 599.6h2v42.7h-2zM669 574.8h6v13.5h-6z M671 572.6h2v16.9h-2zM675 578.2h6v10.1h-6z M677 570.3h2v20.2h-2zM681 588.3h6v21.3h-6z M683 587.2h2v25.8h-2zM687 608.5h6v11.2h-6z M689 607.4h2v28.1h-2zM693 619.8h6v2.2h-6z M695 611.9h2v16.9h-2zM711 596.2h6v22.5h-6z M713 591.7h2v29.2h-2zM723 612.8h6v1.5h-6z M725 610.8h2v9.0h-2zM728 615.3h6v12.4h-6z M730 611.9h2v23.6h-2zM734 627.6h6v14.6h-6z M736 619.8h2v37.1h-2zM740 642.2h6v11.2h-6z M742 635.5h2v46.1h-2zM758 607.4h6v2.2h-6z M760 598.4h2v14.6h-2zM764 609.7h6v22.5h-6z M766 604.0h2v28.1h-2zM794 597.3h6v15.7h-6z M796 592.8h2v25.8h-2zM811 590.9h6v11.3h-6z M813 586.0h2v19.4h-2zM817 598.9h6v3.2h-6z M819 595.7h2v9.7h-2zM829 586.0h6v1.6h-6z M831 566.6h2v24.2h-2zM876 410.0h6v9.7h-6z M878 408.4h2v40.4h-2zM894 274.3h6v17.8h-6z M896 227.5h2v80.8h-2zM924 256.5h6v95.3h-6z M926 254.9h2v137.3h-2zM930 351.8h6v9.7h-6z M932 330.8h2v77.5h-2zM936 359.9h6v1.6h-6z M938 351.8h2v45.2h-2zM953 337.3h6v29.1h-6z M955 313.1h2v54.9h-2zM965 365.0h6v8.4h-6z M967 356.6h2v40.7h-2zM971 373.4h6v20.4h-6z M973 352.3h2v43.5h-2zM977 393.1h6v15.5h-6z M979 383.2h2v42.1h-2zM983 408.5h6v49.9h-6z M985 393.1h2v72.3h-2zM1001 380.4h6v28.1h-6z M1003 371.3h2v48.5h-2zM1019 315.8h6v8.4h-6z M1021 299.0h2v45.7h-2zM1025 324.2h6v16.2h-6z M1027 308.1h2v35.1h-2zM1030 340.4h6v10.5h-6z M1032 326.4h2v32.3h-2zM1036 350.2h6v16.2h-6z M1038 312.3h2v55.5h-2zM1054 327.1h6v51.3h-6z M1056 307.4h2v92.7h-2zM1060 377.2h6v1.5h-6z M1062 361.5h2v35.8h-2zM1072 371.3h6v5.6h-6z M1074 360.1h2v16.9h-2zM1078 376.2h6v6.3h-6z M1080 373.4h2v40.0h-2zM1084 382.5h6v53.4h-6z M1086 376.9h2v60.4h-2zM1096 411.3h6v26.7h-6z M1098 409.2h2v28.8h-2zM1107 379.0h6v7.7h-6z M1109 379.0h2v26.0h-2zM1113 386.8h6v5.6h-6z M1115 365.0h2v36.5h-2zM1119 392.4h6v42.8h-6z M1121 385.4h2v59.0h-2zM1131 395.2h6v12.4h-6z M1133 387.3h2v20.2h-2zM1137 406.5h6v1.5h-6z M1139 391.8h2v20.8h-2zM1143 407.0h6v38.2h-6z M1145 404.2h2v52.8h-2zM1149 444.1h6v1.5h-6z M1151 441.2h2v19.1h-2zM1155 445.7h6v11.8h-6z M1157 432.2h2v25.3h-2zM1161 457.0h6v4.5h-6z M1163 440.1h2v36.5h-2zM1173 433.9h6v5.6h-6z M1175 428.3h2v18.5h-2zM1179 439.0h6v14.0h-6z M1181 433.9h2v19.7h-2zM1190 446.1h6v1.5h-6z M1192 442.9h2v8.4h-2zM1208 405.8h6v6.7h-6z M1210 389.0h2v26.4h-2zM1238 366.5h6v25.3h-6z M1240 366.0h2v29.8h-2zM1244 391.2h6v8.4h-6z M1246 381.1h2v29.2h-2zM1261 377.2h6v2.2h-6z M1263 362.0h2v21.3h-2zM1267 378.9h6v23.0h-6z M1269 374.4h2v29.2h-2zM1273 401.9h6v3.4h-6z M1275 396.3h2v10.1h-2zM1279 404.2h6v1.5h-6z M1281 395.2h2v15.7h-2zM1285 406.0h6v31.4h-6z M1287 405.0h2v71.7h-2zM1291 437.5h6v6.9h-6z M1293 424.7h2v25.6h-2zM1303 417.8h6v47.2h-6z M1305 412.9h2v56.0h-2zM1332 430.6h6v6.9h-6z M1334 421.7h2v24.6h-2zM1356 388.3h6v18.7h-6z M1358 385.4h2v27.5h-2zM1374 401.1h6v36.4h-6z M1376 398.2h2v39.3h-2zM1386 430.6h6v19.7h-6z M1388 429.6h2v27.5h-2zM1392 450.2h6v112.0h-6z M1394 440.4h2v410.6h-2zM1415 501.4h6v25.6h-6z M1417 497.4h2v59.0h-2zM1421 526.9h6v24.6h-6z M1423 516.1h2v44.2h-2zM1427 551.5h6v21.6h-6z M1429 537.7h2v45.2h-2zM1433 573.1h6v9.8h-6z M1435 554.4h2v54.1h-2zM1457 530.0h6v18.5h-6z M1459 519.9h2v33.7h-2zM1463 547.7h6v16.0h-6z M1465 544.3h2v27.8h-2zM1492 490.3h6v2.5h-6z M1494 476.9h2v24.4h-2zM1498 492.9h6v8.4h-6z M1500 479.4h2v31.2h-2zM1504 500.5h6v15.2h-6z M1506 486.1h2v32.0h-2zM1510 514.8h6v29.5h-6z M1512 503.8h2v55.6h-2zM1522 524.9h6v1.7h-6z M1524 522.4h2v11.0h-2zM1534 521.5h6v57.3h-6z M1536 519.9h2v70.0h-2zM1540 578.0h6v27.8h-6z M1542 562.8h2v77.6h-2zM1552 569.6h6v34.6h-6z M1554 550.2h2v59.9h-2zM1563 576.3h6v8.4h-6z M1565 570.4h2v24.4h-2zM1581 521.5h6v35.4h-6z M1583 510.6h2v48.9h-2zM1587 555.3h6v1.7h-6z M1589 540.9h2v34.6h-2zM1593 556.9h6v17.7h-6z M1595 520.7h2v59.9h-2zM1599 573.8h6v21.1h-6z M1601 568.8h2v29.5h-2zM1605 593.6h6v2.0h-6z M1607 579.3h2v23.1h-2zM1611 596.1h6v6.4h-6z M1613 585.2h2v31.5h-2zM1617 602.0h6v13.8h-6z M1619 578.4h2v49.2h-2zM1629 601.5h6v28.0h-6z M1631 601.0h2v50.6h-2zM1635 629.0h6v29.5h-6z M1637 619.2h2v45.7h-2zM1640 658.0h6v13.8h-6z M1642 650.1h2v53.6h-2zM1664 599.0h6v6.9h-6z M1666 589.2h2v29.5h-2zM1676 600.0h6v6.4h-6z M1678 597.0h2v15.7h-2zM1682 606.4h6v5.4h-6z M1684 587.2h2v29.5h-2zM1694 605.9h6v12.8h-6z M1696 602.0h2v16.7h-2zM1700 618.2h6v32.4h-6z M1702 616.2h2v45.2h-2zM1717 606.9h6v26.5h-6z M1719 602.0h2v37.9h-2zM1723 632.9h6v16.7h-6z M1725 629.0h2v25.6h-2zM1729 648.4h6v1.5h-6z M1731 645.2h2v8.4h-2zM1753 630.0h6v17.7h-6z M1755 629.0h2v19.7h-2zM1759 647.2h6v9.3h-6z M1761 645.7h2v13.8h-2z"/>
<line x1="898" y1="227" x2="1986" y2="227" stroke="#000" stroke-width="4" stroke-dasharray="4 8"/>
<line x1="20" y1="294.5" x2="1986" y2="294.5" stroke="#000" stroke-width="4" stroke-dasharray="4 8"/>
<line x1="1691" y1="663" x2="1986" y2="663" stroke="#000" stroke-width="4" stroke-dasharray="4 8"/>
<line x1="655" y1="704" x2="1986" y2="704" stroke="#000" stroke-width="4" stroke-dasharray="4 8"/>
<line x1="270" y1="757.5" x2="1986" y2="757.5" stroke="#000" stroke-width="4" stroke-dasharray="4 8"/>
<line x1="1122" y1="851" x2="1986" y2="851" stroke="#000" stroke-width="2" stroke-dasharray="3 5"/>
<line x1="855.2" y1="209.8" x2="1990" y2="579" stroke="#000" stroke-width="4" stroke-linecap="round"/>
<path d="M902.9 221.7 L1032.9 127.9 L1032.9 91.6 Q1032.9 75.6 1048.9 75.6 L1220 75.6 Q1236 75.6 1236 91.6 L1236 127.9 Q1236 143.9 1220 143.9 L1048.7 143.9 Z" fill="#D1E8D0" stroke="#0F1A10" stroke-width="2" stroke-linejoin="round"/>
<text x="1054.5" y="118.8" font-size="28" fill="#0C0C0C" textLength="152.4" lengthAdjust="spacingAndGlyphs">Record high</text>
<path d="M-193 292.9 L270.5 190.2 L270.5 153.9 Q270.5 137.9 286.5 137.9 L466.6 137.9 Q482.6 137.9 482.6 153.9 L482.6 190.5 Q482.6 206.5 466.6 206.5 L286 206.5 Z" fill="#D1E8D0" stroke="#0F1A10" stroke-width="2" stroke-linejoin="round"/>
<text x="291.4" y="181.6" font-size="28" fill="#0C0C0C" textLength="176.0" lengthAdjust="spacingAndGlyphs">Q1 2025 high</text>
</g>
<text x="37.0" y="93.5" font-size="24" fill="#131722" textLength="331.0" lengthAdjust="spacingAndGlyphs">XRP / TetherUS · 1D · Binance</text>
<text x="383.7" y="93.5" font-size="24" fill="#131722" textLength="16.8" lengthAdjust="spacingAndGlyphs">O</text>
<text x="402.7" y="93.5" font-size="24" fill="#F7525F" textLength="74.3" lengthAdjust="spacingAndGlyphs">2.0418</text>
<text x="492.8" y="93.5" font-size="24" fill="#131722" textLength="14.9" lengthAdjust="spacingAndGlyphs">H</text>
<text x="510.2" y="93.5" font-size="24" fill="#F7525F" textLength="79.8" lengthAdjust="spacingAndGlyphs">2.0468</text>
<text x="606.7" y="93.5" font-size="24" fill="#131722" textLength="10.1" lengthAdjust="spacingAndGlyphs">L</text>
<text x="618.7" y="93.5" font-size="24" fill="#F7525F" textLength="74.0" lengthAdjust="spacingAndGlyphs">1.9927</text>
<text x="707.9" y="93.5" font-size="24" fill="#131722" textLength="15.8" lengthAdjust="spacingAndGlyphs">C</text>
<text x="725.9" y="93.5" font-size="24" fill="#F7525F" textLength="78.4" lengthAdjust="spacingAndGlyphs">2.0056</text>
<text x="819.2" y="93.5" font-size="24" fill="#F7525F" textLength="199.6" lengthAdjust="spacingAndGlyphs">−0.0362 (−1.77%)</text>
<text x="37.0" y="128.0" font-size="24" fill="#131722" textLength="100.7" lengthAdjust="spacingAndGlyphs">Vol · XRP</text>
<text x="153.2" y="128.0" font-size="24" fill="#F7525F" textLength="88.4" lengthAdjust="spacingAndGlyphs">53.64 M</text>
<text x="37.0" y="161.5" font-size="24" fill="#131722" textLength="436.5" lengthAdjust="spacingAndGlyphs">EMA (50, close, 100, close, 200, close)</text>
<text x="489.7" y="161.5" font-size="24" fill="#FF2525" textLength="78.3" lengthAdjust="spacingAndGlyphs">2.2494</text>
<text x="584.0" y="161.5" font-size="24" fill="#2962FF" textLength="74.0" lengthAdjust="spacingAndGlyphs">2.4125</text>
<text x="673.7" y="161.5" font-size="24" fill="#9C27B0" textLength="79.1" lengthAdjust="spacingAndGlyphs">2.4650</text>
<g clip-path="url(#cpRsi)">
<rect x="20" y="938" width="1966" height="103" fill="#F0EDF8"/>
<path d="M850.4 938 L850.4 934.2 L856.3 924.4 L862.2 923.9 L868.1 920.3 L874.1 916.6 L880.0 921.9 L885.9 918.2 L891.8 909.6 L897.8 916.3 L903.7 916.0 L909.6 915.5 L915.5 913.6 L921.4 913.5 L921.4 938 Z" fill="url(#gOB)"/>
<line x1="20" y1="938" x2="1986" y2="938" stroke="#787B86" stroke-width="2" stroke-dasharray="10 12"/>
<line x1="20" y1="979" x2="1986" y2="979" stroke="#B2B5BE" stroke-width="2" stroke-dasharray="10 12"/>
<line x1="20" y1="1041" x2="1986" y2="1041" stroke="#787B86" stroke-width="2" stroke-dasharray="10 12"/>
<polyline fill="none" stroke="#7E57C2" stroke-width="2" stroke-linejoin="round" points="21.3,977.4 27.2,987.7 33.1,986.6 39.1,985.2 45.0,1020.2 50.9,1011.9 56.8,1024.6 62.8,1023.0 68.7,1029.5 74.6,1019.4 80.5,951.5 86.4,986.4 92.4,982.3 98.3,979.3 104.2,973.3 110.1,986.8 116.1,990.4 122.0,1002.5 127.9,1009.8 133.8,996.4 139.7,990.8 145.7,989.4 151.6,981.3 157.5,978.7 163.4,986.2 169.4,982.2 175.3,986.7 181.2,967.0 187.1,975.1 193.0,979.4 199.0,980.5 204.9,974.7 210.8,973.7 216.7,975.3 222.6,983.4 228.6,986.4 234.5,997.9 240.4,1005.3 246.3,1004.0 252.3,1010.2 258.2,1001.4 264.1,1014.6 270.0,1006.8 275.9,996.2 281.9,994.2 287.8,1019.7 293.7,1022.1 299.6,1034.2 305.6,991.1 311.5,999.5 317.4,992.3 323.3,977.5 329.2,981.7 335.2,980.7 341.1,985.5 347.0,986.0 352.9,987.0 358.9,990.4 364.8,983.8 370.7,985.0 376.6,983.6 382.5,965.8 388.5,965.3 394.4,968.0 400.3,971.5 406.2,969.6 412.2,962.3 418.1,956.4 424.0,967.0 429.9,973.9 435.8,970.4 441.8,973.7 447.7,977.1 453.6,982.5 459.5,988.0 465.5,982.8 471.4,988.6 477.3,954.2 483.2,952.2 489.1,940.5 495.1,957.4 501.0,942.5 506.9,940.0 512.8,944.3 518.8,967.0 524.7,967.0 530.6,971.4 536.5,963.0 542.4,969.5 548.4,973.5 554.3,968.2 560.2,963.7 566.1,984.5 572.0,979.0 578.0,977.0 583.9,982.7 589.8,980.4 595.7,988.7 601.7,994.1 607.6,1013.0 613.5,1002.8 619.4,1000.7 625.3,997.4 631.3,985.4 637.2,994.4 643.1,1014.8 649.0,996.2 655.0,993.3 660.9,976.8 666.8,967.7 672.7,976.4 678.6,976.4 684.6,990.9 690.5,997.7 696.4,999.3 702.3,992.9 708.3,977.5 714.2,993.1 720.1,989.3 726.0,989.3 731.9,999.6 737.9,1010.6 743.8,1019.0 749.7,984.0 755.6,978.6 761.6,978.6 767.5,994.5 773.4,985.2 779.3,977.1 785.2,973.3 791.2,968.9 797.1,980.7 803.0,969.9 808.9,965.8 814.9,974.5 820.8,974.5 826.7,964.6 832.6,964.6 838.5,957.6 844.5,946.5 850.4,934.2 856.3,924.4 862.2,923.9 868.1,920.3 874.1,916.6 880.0,921.9 885.9,918.2 891.8,909.6 897.8,916.3 903.7,916.0 909.6,915.5 915.5,913.6 921.4,913.5 927.4,951.8 933.3,955.3 939.2,955.3 945.1,953.6 951.1,949.1 957.0,961.3 962.9,960.8 968.8,964.8 974.7,974.2 980.7,981.0 986.6,1003.2 992.5,980.4 998.4,969.1 1004.4,979.7 1010.3,977.0 1016.2,953.0 1022.1,956.1 1028.0,961.7 1034.0,965.5 1039.9,971.3 1045.8,960.3 1051.7,959.6 1057.7,979.0 1063.6,979.0 1069.5,976.2 1075.4,978.6 1081.3,981.1 1087.3,1003.9 1093.2,990.7 1099.1,1001.4 1105.0,975.8 1110.9,978.6 1116.9,980.8 1122.8,997.2 1128.7,980.3 1134.6,984.8 1140.6,984.8 1146.5,999.4 1152.4,999.4 1158.3,1004.5 1164.2,1006.2 1170.2,989.9 1176.1,992.4 1182.0,998.7 1187.9,994.8 1193.9,995.1 1199.8,984.1 1205.7,971.7 1211.6,975.3 1217.5,970.6 1223.5,963.7 1229.4,956.9 1235.3,955.5 1241.2,969.7 1247.2,974.2 1253.1,968.6 1259.0,963.0 1264.9,964.4 1270.8,978.6 1276.8,980.8 1282.7,980.8 1288.6,1002.3 1294.5,1006.8 1300.5,984.9 1306.4,1011.9 1312.3,1003.7 1318.2,999.1 1324.1,987.7 1330.1,985.7 1336.0,990.0 1341.9,973.5 1347.8,962.1 1353.8,961.7 1359.7,973.7 1365.6,972.6 1371.5,970.3 1377.4,993.5 1383.4,988.4 1389.3,1000.6 1395.2,1056.6 1401.1,1054.2 1407.0,1017.5 1413.0,1004.4 1418.9,1015.0 1424.8,1025.1 1430.7,1034.0 1436.7,1038.1 1442.6,1022.5 1448.5,1016.0 1454.4,997.8 1460.3,1006.0 1466.3,1012.8 1472.2,1007.2 1478.1,988.5 1484.0,977.5 1490.0,972.2 1495.9,973.4 1501.8,977.6 1507.7,985.0 1513.6,999.5 1519.6,987.9 1525.5,988.4 1531.4,985.2 1537.3,1014.6 1543.3,1027.2 1549.2,1000.5 1555.1,1015.1 1561.0,997.9 1566.9,1001.4 1572.9,989.5 1578.8,972.1 1584.7,985.9 1590.6,985.9 1596.6,993.2 1602.5,1001.6 1608.4,1001.9 1614.3,1005.1 1620.2,1011.4 1626.2,1001.3 1632.1,1014.6 1638.0,1028.1 1643.9,1034.2 1649.9,1032.7 1655.8,1010.1 1661.7,982.4 1667.6,985.5 1673.5,982.5 1679.5,985.6 1685.4,988.5 1691.3,984.8 1697.2,992.0 1703.1,1009.6 1709.1,987.2 1715.0,981.0 1720.9,994.4 1726.8,1002.4 1732.8,1002.4 1738.7,999.8 1744.6,994.5 1750.5,987.7 1756.4,998.4 1762.4,1003.8"/>
<polyline fill="none" stroke="#FDD835" stroke-width="2" stroke-linejoin="round" points="21.3,989.1 27.2,987.1 33.1,985.4 39.1,983.9 45.0,984.9 50.9,985.7 56.8,987.4 62.8,989.5 68.7,992.2 74.6,994.8 80.5,992.4 86.4,993.3 92.4,994.3 98.3,995.4 104.2,995.0 110.1,995.0 116.1,995.3 122.0,996.5 127.9,995.9 133.8,994.8 139.7,992.7 145.7,990.5 151.6,987.5 157.5,984.9 163.4,987.8 169.4,987.4 175.3,987.8 181.2,986.8 187.1,986.9 193.0,986.4 199.0,985.7 204.9,983.7 210.8,981.3 216.7,979.9 222.6,979.4 228.6,979.2 234.5,980.3 240.4,982.0 246.3,983.2 252.3,985.0 258.2,986.0 264.1,989.3 270.0,991.6 275.9,992.8 281.9,993.9 287.8,997.0 293.7,1000.5 299.6,1004.7 305.6,1005.4 311.5,1006.4 317.4,1006.0 323.3,1003.7 329.2,1002.0 335.2,999.8 341.1,998.6 347.0,996.6 352.9,995.2 358.9,994.8 364.8,994.0 370.7,991.7 376.6,989.2 382.5,984.8 388.5,982.8 394.4,980.6 400.3,979.1 406.2,978.6 412.2,977.1 418.1,975.2 424.0,973.9 429.9,973.1 435.8,972.0 441.8,970.9 447.7,970.5 453.6,970.3 459.5,970.6 465.5,971.8 471.4,973.4 477.3,972.3 483.2,970.8 489.1,968.4 495.1,968.1 501.0,966.9 506.9,964.8 512.8,962.6 518.8,962.4 524.7,961.9 530.6,961.5 536.5,960.3 542.4,959.1 548.4,958.6 554.3,957.3 560.2,958.0 566.1,960.1 572.0,962.9 578.0,964.3 583.9,967.3 589.8,970.4 595.7,973.7 601.7,975.6 607.6,978.5 613.5,980.7 619.4,983.4 625.3,985.4 631.3,986.3 637.2,988.2 643.1,991.9 649.0,992.8 655.0,993.9 660.9,993.9 666.8,992.6 672.7,992.3 678.6,991.3 684.6,991.1 690.5,990.2 696.4,989.9 702.3,989.4 708.3,988.0 714.2,988.5 720.1,988.2 726.0,986.5 731.9,986.8 737.9,987.9 743.8,990.7 749.7,992.0 755.6,992.2 761.6,992.4 767.5,992.6 773.4,991.7 779.3,990.1 785.2,988.6 791.2,987.9 797.1,987.0 803.0,985.5 808.9,983.8 814.9,982.0 820.8,979.7 826.7,976.2 832.6,974.8 838.5,973.2 844.5,970.7 850.4,966.2 856.3,961.5 862.2,957.4 868.1,953.3 874.1,949.2 880.0,945.1 885.9,941.4 891.8,937.3 897.8,933.5 903.7,929.7 909.6,926.5 915.5,923.2 921.4,920.4 927.4,920.7 933.3,921.9 939.2,923.9 945.1,925.8 951.1,927.7 957.0,930.7 962.9,933.2 968.8,936.4 974.7,941.0 980.7,945.4 986.6,951.2 992.5,956.2 998.4,960.8 1004.4,966.3 1010.3,968.1 1016.2,967.9 1022.1,968.0 1028.0,968.6 1034.0,969.9 1039.9,970.7 1045.8,970.6 1051.7,970.2 1057.7,970.5 1063.6,970.4 1069.5,968.8 1075.4,968.7 1081.3,969.5 1087.3,970.9 1093.2,971.8 1099.1,975.2 1105.0,976.7 1110.9,978.0 1116.9,979.1 1122.8,980.9 1128.7,982.5 1134.6,984.5 1140.6,984.9 1146.5,986.3 1152.4,988.0 1158.3,989.8 1164.2,991.5 1170.2,990.6 1176.1,990.7 1182.0,990.5 1187.9,991.9 1193.9,993.2 1199.8,993.4 1205.7,991.5 1211.6,991.1 1217.5,990.0 1223.5,988.3 1229.4,985.0 1235.3,981.7 1241.2,979.3 1247.2,977.2 1253.1,975.8 1259.0,973.7 1264.9,971.4 1270.8,970.4 1276.8,969.5 1282.7,969.3 1288.6,971.2 1294.5,973.1 1300.5,974.1 1306.4,977.3 1312.3,980.6 1318.2,983.9 1324.1,985.2 1330.1,986.1 1336.0,987.7 1341.9,988.6 1347.8,988.4 1353.8,987.0 1359.7,986.4 1365.6,985.8 1371.5,983.5 1377.4,982.7 1383.4,983.0 1389.3,982.3 1395.2,984.9 1401.1,987.7 1407.0,989.6 1413.0,990.9 1418.9,992.5 1424.8,996.1 1430.7,1001.3 1436.7,1007.1 1442.6,1010.9 1448.5,1014.6 1454.4,1017.1 1460.3,1018.2 1466.3,1020.2 1472.2,1020.7 1478.1,1016.0 1484.0,1010.5 1490.0,1006.9 1495.9,1004.3 1501.8,1001.5 1507.7,998.7 1513.6,996.6 1519.6,993.5 1525.5,991.3 1531.4,989.3 1537.3,990.3 1543.3,991.6 1549.2,990.8 1555.1,991.3 1561.0,991.9 1566.9,993.7 1572.9,995.1 1578.8,995.0 1584.7,995.6 1590.6,995.7 1596.6,995.2 1602.5,996.2 1608.4,997.2 1614.3,998.7 1620.2,998.5 1626.2,996.8 1632.1,997.8 1638.0,998.5 1643.9,1000.8 1649.9,1002.8 1655.8,1004.3 1661.7,1005.2 1667.6,1005.2 1673.5,1004.9 1679.5,1004.3 1685.4,1003.3 1691.3,1002.0 1697.2,1001.0 1703.1,1000.9 1709.1,999.8 1715.0,997.4 1720.9,995.3 1726.8,993.4 1732.8,991.6 1738.7,991.0 1744.6,991.9 1750.5,992.0 1756.4,993.2 1762.4,994.5"/>
</g>
<text x="36.7" y="930.7" font-size="24" fill="#131722" textLength="159.3" lengthAdjust="spacingAndGlyphs">RSI (14, close)</text>
<text x="212.8" y="930.7" font-size="24" fill="#7E57C2" textLength="63.5" lengthAdjust="spacingAndGlyphs">40.60</text>
<text x="291.9" y="930.7" font-size="24" fill="#FDD835" textLength="64.6" lengthAdjust="spacingAndGlyphs">43.89</text>
<g clip-path="url(#cpMacd)">
<line x1="20" y1="1135" x2="1986" y2="1135" stroke="#B2B5BE" stroke-width="2" stroke-dasharray="10 12"/>
<path fill="#26A69A" d="M19 1130.1h3v5.0h-3zM79 1132.5h3v2.6h-3zM90 1132.0h3v3.1h-3zM96 1130.6h3v4.5h-3zM102 1128.1h3v7.0h-3zM156 1132.3h3v2.8h-3zM161 1132.1h3v3.0h-3zM167 1131.1h3v4.0h-3zM179 1127.2h3v7.9h-3zM185 1126.7h3v8.4h-3zM203 1128.4h3v6.7h-3zM209 1128.2h3v6.9h-3zM321 1132.7h3v2.4h-3zM327 1130.7h3v4.4h-3zM333 1129.3h3v5.8h-3zM339 1129.3h3v5.8h-3zM363 1130.4h3v4.7h-3zM381 1128.4h3v6.7h-3zM386 1127.3h3v7.8h-3zM392 1127.2h3v7.9h-3zM410 1128.0h3v7.1h-3zM416 1127.3h3v7.8h-3zM475 1134.0h3v1.1h-3zM481 1131.9h3v3.2h-3zM487 1128.6h3v6.5h-3zM499 1126.1h3v9.0h-3zM505 1124.4h3v10.7h-3zM665 1134.0h3v1.1h-3zM671 1133.2h3v1.9h-3zM677 1132.7h3v2.4h-3zM706 1135.0h3v0.8h-3zM760 1134.0h3v1.1h-3zM771 1134.3h3v0.8h-3zM777 1133.3h3v1.8h-3zM783 1132.3h3v2.8h-3zM789 1131.3h3v3.8h-3zM801 1131.3h3v3.8h-3zM807 1130.7h3v4.4h-3zM825 1131.3h3v3.8h-3zM831 1131.2h3v3.9h-3zM837 1130.6h3v4.5h-3zM842 1128.9h3v6.2h-3zM848 1125.8h3v9.3h-3zM854 1121.1h3v14.0h-3zM860 1118.8h3v16.3h-3zM866 1116.7h3v18.4h-3zM872 1114.5h3v20.6h-3zM884 1114.7h3v20.4h-3zM890 1108.2h3v26.9h-3zM896 1107.1h3v28.0h-3zM1204 1132.6h3v2.5h-3zM1210 1131.2h3v3.9h-3zM1216 1129.7h3v5.4h-3zM1221 1128.0h3v7.1h-3zM1227 1126.1h3v9.0h-3zM1233 1125.0h3v10.1h-3zM1346 1132.4h3v2.7h-3zM1352 1130.4h3v4.7h-3zM1476 1132.5h3v2.6h-3zM1482 1128.8h3v6.3h-3zM1488 1125.7h3v9.4h-3zM1494 1124.1h3v11.0h-3zM1500 1124.0h3v11.1h-3zM1577 1132.1h3v3.0h-3zM1583 1131.7h3v3.4h-3zM1589 1131.4h3v3.7h-3zM1666 1133.3h3v1.8h-3zM1672 1130.9h3v4.2h-3zM1677 1129.8h3v5.3h-3zM1683 1129.5h3v5.6h-3zM1689 1129.1h3v6.0h-3zM1707 1131.8h3v3.3h-3zM1713 1130.7h3v4.4h-3zM1743 1134.6h3v0.8h-3zM1749 1133.6h3v1.5h-3z"/>
<path fill="#B2DFDB" d="M25 1132.2h3v2.9h-3zM31 1133.4h3v1.7h-3zM37 1134.0h3v1.1h-3zM84 1132.9h3v2.2h-3zM108 1130.4h3v4.7h-3zM114 1132.9h3v2.2h-3zM173 1131.5h3v3.6h-3zM191 1127.6h3v7.5h-3zM197 1128.7h3v6.4h-3zM215 1128.7h3v6.4h-3zM221 1130.7h3v4.4h-3zM227 1132.7h3v2.4h-3zM345 1129.5h3v5.6h-3zM351 1129.8h3v5.3h-3zM357 1130.6h3v4.5h-3zM369 1130.5h3v4.6h-3zM375 1130.6h3v4.5h-3zM398 1127.8h3v7.3h-3zM404 1128.3h3v6.8h-3zM422 1128.4h3v6.7h-3zM428 1130.0h3v5.1h-3zM434 1131.0h3v4.1h-3zM440 1132.1h3v3.0h-3zM446 1133.3h3v1.8h-3zM452 1134.6h3v0.8h-3zM493 1128.7h3v6.4h-3zM511 1124.5h3v10.6h-3zM517 1128.0h3v7.1h-3zM523 1130.8h3v4.3h-3zM529 1133.5h3v1.6h-3zM535 1134.1h3v1.0h-3zM683 1133.9h3v1.2h-3zM765 1134.7h3v0.8h-3zM795 1131.9h3v3.2h-3zM813 1131.2h3v3.9h-3zM819 1131.7h3v3.4h-3zM878 1115.0h3v20.1h-3zM902 1108.0h3v27.1h-3zM908 1110.1h3v25.0h-3zM914 1111.5h3v23.6h-3zM919 1114.2h3v20.9h-3zM925 1124.0h3v11.1h-3zM931 1132.0h3v3.1h-3zM1239 1126.5h3v8.6h-3zM1245 1128.3h3v6.8h-3zM1251 1129.1h3v6.0h-3zM1257 1129.2h3v5.9h-3zM1263 1129.7h3v5.4h-3zM1269 1131.8h3v3.3h-3zM1275 1133.5h3v1.6h-3zM1281 1134.8h3v0.8h-3zM1358 1130.7h3v4.4h-3zM1364 1130.9h3v4.2h-3zM1370 1131.0h3v4.1h-3zM1375 1133.7h3v1.4h-3zM1381 1135.0h3v0.8h-3zM1506 1125.3h3v9.8h-3zM1512 1128.3h3v6.8h-3zM1518 1129.1h3v6.0h-3zM1523 1129.8h3v5.3h-3zM1529 1130.0h3v5.1h-3zM1535 1134.1h3v1.0h-3zM1595 1132.5h3v2.6h-3zM1600 1134.4h3v0.8h-3zM1695 1129.7h3v5.4h-3zM1701 1132.3h3v2.8h-3zM1719 1131.8h3v3.3h-3zM1725 1133.7h3v1.4h-3zM1731 1134.7h3v0.8h-3zM1737 1135.0h3v0.8h-3zM1754 1134.1h3v1.0h-3zM1760 1134.8h3v0.8h-3z"/>
<path fill="#FFCDD2" d="M73 1135.1h3v11.7h-3zM132 1135.1h3v7.3h-3zM138 1135.1h3v5.4h-3zM144 1135.1h3v3.5h-3zM150 1135.1h3v0.8h-3zM256 1135.1h3v6.8h-3zM268 1135.1h3v7.7h-3zM274 1135.1h3v5.7h-3zM280 1135.1h3v3.8h-3zM304 1135.1h3v5.6h-3zM309 1135.1h3v4.1h-3zM315 1135.1h3v1.8h-3zM558 1135.1h3v1.9h-3zM588 1135.1h3v5.2h-3zM617 1135.1h3v8.2h-3zM623 1135.1h3v7.3h-3zM629 1135.1h3v5.4h-3zM635 1135.1h3v4.8h-3zM647 1135.1h3v5.2h-3zM653 1135.1h3v4.1h-3zM659 1135.1h3v1.6h-3zM718 1135.1h3v0.8h-3zM724 1135.1h3v0.8h-3zM748 1135.1h3v2.0h-3zM754 1135.1h3v0.8h-3zM991 1135.1h3v21.4h-3zM996 1135.1h3v17.7h-3zM1002 1135.1h3v16.7h-3zM1008 1135.1h3v14.9h-3zM1014 1135.1h3v7.6h-3zM1020 1135.1h3v3.5h-3zM1026 1135.1h3v2.0h-3zM1032 1135.1h3v1.9h-3zM1044 1135.1h3v1.2h-3zM1050 1135.1h3v0.8h-3zM1103 1135.1h3v8.8h-3zM1109 1135.1h3v6.6h-3zM1115 1135.1h3v5.4h-3zM1127 1135.1h3v5.2h-3zM1133 1135.1h3v4.6h-3zM1139 1135.1h3v3.9h-3zM1168 1135.1h3v5.8h-3zM1174 1135.1h3v4.5h-3zM1180 1135.1h3v4.2h-3zM1186 1135.1h3v3.3h-3zM1192 1135.1h3v2.4h-3zM1198 1135.1h3v0.8h-3zM1298 1135.1h3v4.2h-3zM1316 1135.1h3v6.9h-3zM1322 1135.1h3v5.2h-3zM1328 1135.1h3v3.6h-3zM1334 1135.1h3v2.8h-3zM1340 1135.1h3v0.8h-3zM1405 1135.1h3v14.7h-3zM1411 1135.1h3v12.2h-3zM1417 1135.1h3v11.5h-3zM1441 1135.1h3v11.2h-3zM1447 1135.1h3v8.6h-3zM1452 1135.1h3v4.5h-3zM1458 1135.1h3v2.5h-3zM1464 1135.1h3v1.9h-3zM1470 1135.1h3v0.8h-3zM1547 1135.1h3v3.1h-3zM1559 1135.1h3v4.0h-3zM1565 1135.1h3v3.5h-3zM1571 1135.1h3v1.3h-3zM1624 1135.1h3v2.3h-3zM1654 1135.1h3v6.1h-3zM1660 1135.1h3v1.2h-3z"/>
<path fill="#FF5252" d="M43 1135.1h3v4.8h-3zM49 1135.1h3v7.3h-3zM55 1135.1h3v10.5h-3zM61 1135.1h3v11.7h-3zM67 1135.1h3v12.8h-3zM120 1135.1h3v2.7h-3zM126 1135.1h3v7.4h-3zM232 1135.1h3v0.8h-3zM238 1135.1h3v4.0h-3zM244 1135.1h3v5.6h-3zM250 1135.1h3v7.2h-3zM262 1135.1h3v8.2h-3zM286 1135.1h3v6.1h-3zM292 1135.1h3v7.4h-3zM298 1135.1h3v9.5h-3zM458 1135.1h3v0.9h-3zM463 1135.1h3v1.3h-3zM469 1135.1h3v2.0h-3zM540 1135.1h3v0.8h-3zM546 1135.1h3v1.9h-3zM552 1135.1h3v2.2h-3zM564 1135.1h3v4.0h-3zM570 1135.1h3v4.7h-3zM576 1135.1h3v4.8h-3zM582 1135.1h3v5.3h-3zM594 1135.1h3v5.8h-3zM600 1135.1h3v6.5h-3zM606 1135.1h3v8.5h-3zM612 1135.1h3v8.7h-3zM641 1135.1h3v6.0h-3zM688 1135.1h3v0.8h-3zM694 1135.1h3v1.2h-3zM700 1135.1h3v1.2h-3zM712 1135.1h3v0.8h-3zM730 1135.1h3v1.1h-3zM736 1135.1h3v2.4h-3zM742 1135.1h3v3.8h-3zM937 1135.1h3v2.8h-3zM943 1135.1h3v6.6h-3zM949 1135.1h3v8.1h-3zM955 1135.1h3v11.1h-3zM961 1135.1h3v13.0h-3zM967 1135.1h3v14.6h-3zM973 1135.1h3v16.8h-3zM979 1135.1h3v18.7h-3zM985 1135.1h3v22.7h-3zM1038 1135.1h3v2.9h-3zM1056 1135.1h3v3.0h-3zM1062 1135.1h3v4.9h-3zM1067 1135.1h3v5.5h-3zM1073 1135.1h3v6.2h-3zM1079 1135.1h3v6.8h-3zM1085 1135.1h3v10.6h-3zM1091 1135.1h3v10.8h-3zM1097 1135.1h3v12.3h-3zM1121 1135.1h3v7.1h-3zM1144 1135.1h3v5.8h-3zM1150 1135.1h3v6.6h-3zM1156 1135.1h3v7.5h-3zM1162 1135.1h3v7.9h-3zM1287 1135.1h3v2.6h-3zM1293 1135.1h3v4.8h-3zM1304 1135.1h3v6.8h-3zM1310 1135.1h3v7.3h-3zM1387 1135.1h3v1.9h-3zM1393 1135.1h3v10.6h-3zM1399 1135.1h3v15.3h-3zM1423 1135.1h3v11.9h-3zM1429 1135.1h3v12.8h-3zM1435 1135.1h3v13.2h-3zM1541 1135.1h3v3.2h-3zM1553 1135.1h3v5.1h-3zM1606 1135.1h3v0.8h-3zM1612 1135.1h3v1.5h-3zM1618 1135.1h3v2.7h-3zM1630 1135.1h3v3.5h-3zM1636 1135.1h3v5.9h-3zM1642 1135.1h3v7.7h-3zM1648 1135.1h3v8.1h-3z"/>
<polyline fill="none" stroke="#2962FF" stroke-width="2" stroke-linejoin="round" points="21.3,1139.7 27.2,1141.1 33.1,1141.9 39.1,1142.2 45.0,1149.2 50.9,1153.5 56.8,1159.4 62.8,1163.5 68.7,1167.8 74.6,1169.7 80.5,1154.7 86.4,1154.6 92.4,1152.9 98.3,1150.4 104.2,1146.1 110.1,1147.3 116.1,1149.2 122.0,1154.7 127.9,1161.3 133.8,1163.0 139.7,1162.6 145.7,1161.5 151.6,1158.1 157.5,1154.5 163.4,1153.5 169.4,1151.6 175.3,1151.1 181.2,1144.8 187.1,1142.2 193.0,1141.2 199.0,1140.7 204.9,1138.7 210.8,1136.8 216.7,1135.7 222.6,1136.6 228.6,1138.0 234.5,1141.4 240.4,1145.6 246.3,1148.6 252.3,1152.0 258.2,1153.3 264.1,1156.7 270.0,1158.2 275.9,1157.7 281.9,1156.7 287.8,1160.5 293.7,1163.6 299.6,1168.1 305.6,1165.6 311.5,1165.2 317.4,1163.3 323.3,1158.5 329.2,1155.4 335.2,1152.6 341.1,1151.1 347.0,1149.8 352.9,1148.9 358.9,1148.5 364.8,1147.2 370.7,1146.2 376.6,1145.0 382.5,1141.3 388.5,1138.1 394.4,1136.0 400.3,1134.8 406.2,1133.6 412.2,1131.6 418.1,1129.0 424.0,1128.3 429.9,1128.7 435.8,1128.6 441.8,1129.0 447.7,1129.8 453.6,1131.0 459.5,1132.5 465.5,1133.3 471.4,1134.5 477.3,1131.1 483.2,1128.2 489.1,1123.2 495.1,1121.8 501.0,1116.9 506.9,1112.5 512.8,1109.9 518.8,1111.8 524.7,1113.5 530.6,1115.7 536.5,1116.1 542.4,1117.7 548.4,1119.6 554.3,1120.5 560.2,1120.6 566.1,1123.7 572.0,1125.6 578.0,1126.8 583.9,1128.7 589.8,1129.9 595.7,1131.9 601.7,1134.2 607.6,1138.4 613.5,1140.7 619.4,1142.3 625.3,1143.2 631.3,1142.7 637.2,1143.3 643.1,1146.0 649.0,1146.5 655.0,1146.4 660.9,1144.4 666.8,1141.4 672.7,1140.0 678.6,1139.0 684.6,1139.8 690.5,1141.3 696.4,1142.6 702.3,1142.9 708.3,1141.5 714.2,1142.2 720.1,1142.3 726.0,1142.3 731.9,1143.3 737.9,1145.3 743.8,1147.6 749.7,1146.3 755.6,1144.5 761.6,1143.0 767.5,1143.5 773.4,1143.0 779.3,1141.5 785.2,1139.8 791.2,1137.9 797.1,1137.6 803.0,1136.1 808.9,1134.3 814.9,1133.9 820.8,1133.6 826.7,1132.2 832.6,1131.1 838.5,1129.4 844.5,1126.2 850.4,1120.7 856.3,1112.6 862.2,1106.2 868.1,1099.5 874.1,1092.1 880.0,1087.6 885.9,1082.3 891.8,1069.0 897.8,1060.8 903.7,1055.0 909.6,1050.8 915.5,1046.4 921.4,1043.8 927.4,1050.8 933.3,1058.1 939.2,1064.7 945.1,1070.1 951.1,1073.6 957.0,1079.4 962.9,1084.5 968.8,1089.8 974.7,1096.2 980.7,1102.8 986.6,1112.5 992.5,1116.5 998.4,1117.3 1004.4,1120.4 1010.3,1122.4 1016.2,1117.0 1022.1,1113.7 1028.0,1112.7 1034.0,1113.0 1039.9,1114.8 1045.8,1113.4 1051.7,1112.3 1057.7,1116.0 1063.6,1119.1 1069.5,1121.1 1075.4,1123.3 1081.3,1125.7 1087.3,1132.1 1093.2,1135.0 1099.1,1139.6 1105.0,1138.2 1110.9,1137.7 1116.9,1137.8 1122.8,1141.4 1128.7,1140.8 1134.6,1141.3 1140.6,1141.6 1146.5,1144.9 1152.4,1147.4 1158.3,1150.2 1164.2,1152.6 1170.2,1151.9 1176.1,1151.7 1182.0,1152.5 1187.9,1152.3 1193.9,1152.1 1199.8,1150.3 1205.7,1146.7 1211.6,1144.3 1217.5,1141.5 1223.5,1138.0 1229.4,1133.8 1235.3,1130.2 1241.2,1129.5 1247.2,1129.7 1253.1,1129.0 1259.0,1127.5 1264.9,1126.7 1270.8,1128.0 1276.8,1129.3 1282.7,1130.5 1288.6,1134.1 1294.5,1137.5 1300.5,1137.9 1306.4,1142.2 1312.3,1144.6 1318.2,1145.9 1324.1,1145.5 1330.1,1144.8 1336.0,1144.7 1341.9,1142.4 1347.8,1138.6 1353.8,1135.5 1359.7,1134.6 1365.6,1133.8 1371.5,1132.9 1377.4,1135.2 1383.4,1136.4 1389.3,1139.0 1395.2,1150.3 1401.1,1158.8 1407.0,1161.9 1413.0,1162.4 1418.9,1164.6 1424.8,1168.1 1430.7,1172.2 1436.7,1175.8 1442.6,1176.7 1448.5,1176.2 1454.4,1173.1 1460.3,1171.9 1466.3,1171.7 1472.2,1170.5 1478.1,1166.6 1484.0,1161.4 1490.0,1155.9 1495.9,1151.6 1501.8,1148.7 1507.7,1147.5 1513.6,1148.8 1519.6,1148.1 1525.5,1147.5 1531.4,1146.5 1537.3,1150.3 1543.3,1155.3 1549.2,1156.0 1555.1,1159.2 1561.0,1159.1 1566.9,1159.5 1572.9,1157.7 1578.8,1152.6 1584.7,1151.3 1590.6,1150.1 1596.6,1150.5 1602.5,1152.3 1608.4,1153.6 1614.3,1154.9 1620.2,1156.9 1626.2,1157.0 1632.1,1159.1 1638.0,1162.9 1643.9,1166.7 1649.9,1169.2 1655.8,1168.6 1661.7,1164.0 1667.6,1160.6 1673.5,1157.2 1679.5,1154.8 1685.4,1153.1 1691.3,1151.1 1697.2,1150.4 1703.1,1152.3 1709.1,1151.0 1715.0,1148.8 1720.9,1149.1 1726.8,1150.5 1732.8,1151.5 1738.7,1151.8 1744.6,1151.2 1750.5,1149.8 1756.4,1150.1 1762.4,1150.8"/>
<polyline fill="none" stroke="#F23645" stroke-width="2" stroke-linejoin="round" points="21.3,1144.7 27.2,1143.9 33.1,1143.5 39.1,1143.3 45.0,1144.5 50.9,1146.3 56.8,1148.9 62.8,1151.8 68.7,1155.0 74.6,1157.9 80.5,1157.3 86.4,1156.8 92.4,1156.0 98.3,1154.9 104.2,1153.1 110.1,1151.9 116.1,1151.4 122.0,1152.1 127.9,1153.9 133.8,1155.7 139.7,1157.1 145.7,1158.0 151.6,1158.0 157.5,1157.3 163.4,1156.6 169.4,1155.6 175.3,1154.7 181.2,1152.7 187.1,1150.6 193.0,1148.7 199.0,1147.1 204.9,1145.4 210.8,1143.7 216.7,1142.1 222.6,1141.0 228.6,1140.4 234.5,1140.6 240.4,1141.6 246.3,1143.0 252.3,1144.8 258.2,1146.5 264.1,1148.5 270.0,1150.5 275.9,1151.9 281.9,1152.9 287.8,1154.4 293.7,1156.2 299.6,1158.6 305.6,1160.0 311.5,1161.0 317.4,1161.5 323.3,1160.9 329.2,1159.8 335.2,1158.3 341.1,1156.9 347.0,1155.5 352.9,1154.2 358.9,1153.0 364.8,1151.9 370.7,1150.7 376.6,1149.6 382.5,1147.9 388.5,1146.0 394.4,1144.0 400.3,1142.2 406.2,1140.4 412.2,1138.7 418.1,1136.7 424.0,1135.1 429.9,1133.8 435.8,1132.8 441.8,1132.0 447.7,1131.6 453.6,1131.4 459.5,1131.7 465.5,1132.0 471.4,1132.5 477.3,1132.2 483.2,1131.4 489.1,1129.8 495.1,1128.2 501.0,1125.9 506.9,1123.2 512.8,1120.6 518.8,1118.8 524.7,1117.7 530.6,1117.3 536.5,1117.1 542.4,1117.2 548.4,1117.7 554.3,1118.2 560.2,1118.7 566.1,1119.7 572.0,1120.9 578.0,1122.1 583.9,1123.4 589.8,1124.7 595.7,1126.1 601.7,1127.8 607.6,1129.9 613.5,1132.1 619.4,1134.1 625.3,1135.9 631.3,1137.3 637.2,1138.5 643.1,1140.0 649.0,1141.3 655.0,1142.3 660.9,1142.7 666.8,1142.4 672.7,1142.0 678.6,1141.4 684.6,1141.1 690.5,1141.1 696.4,1141.4 702.3,1141.7 708.3,1141.7 714.2,1141.8 720.1,1141.9 726.0,1142.0 731.9,1142.2 737.9,1142.8 743.8,1143.8 749.7,1144.3 755.6,1144.3 761.6,1144.1 767.5,1143.9 773.4,1143.8 779.3,1143.3 785.2,1142.6 791.2,1141.7 797.1,1140.9 803.0,1139.9 808.9,1138.8 814.9,1137.8 820.8,1137.0 826.7,1136.0 832.6,1135.0 838.5,1133.9 844.5,1132.4 850.4,1130.0 856.3,1126.5 862.2,1122.5 868.1,1117.9 874.1,1112.7 880.0,1107.7 885.9,1102.6 891.8,1095.9 897.8,1088.9 903.7,1082.1 909.6,1075.9 915.5,1070.0 921.4,1064.7 927.4,1062.0 933.3,1061.2 939.2,1061.9 945.1,1063.5 951.1,1065.5 957.0,1068.3 962.9,1071.6 968.8,1075.2 974.7,1079.4 980.7,1084.1 986.6,1089.8 992.5,1095.1 998.4,1099.5 1004.4,1103.7 1010.3,1107.4 1016.2,1109.3 1022.1,1110.2 1028.0,1110.7 1034.0,1111.2 1039.9,1111.9 1045.8,1112.2 1051.7,1112.2 1057.7,1113.0 1063.6,1114.2 1069.5,1115.6 1075.4,1117.1 1081.3,1118.8 1087.3,1121.5 1093.2,1124.2 1099.1,1127.3 1105.0,1129.5 1110.9,1131.1 1116.9,1132.5 1122.8,1134.2 1128.7,1135.6 1134.6,1136.7 1140.6,1137.7 1146.5,1139.1 1152.4,1140.8 1158.3,1142.7 1164.2,1144.6 1170.2,1146.1 1176.1,1147.2 1182.0,1148.3 1187.9,1149.1 1193.9,1149.7 1199.8,1149.8 1205.7,1149.2 1211.6,1148.2 1217.5,1146.9 1223.5,1145.1 1229.4,1142.8 1235.3,1140.3 1241.2,1138.1 1247.2,1136.5 1253.1,1135.0 1259.0,1133.5 1264.9,1132.1 1270.8,1131.3 1276.8,1130.9 1282.7,1130.8 1288.6,1131.5 1294.5,1132.7 1300.5,1133.7 1306.4,1135.4 1312.3,1137.2 1318.2,1139.0 1324.1,1140.3 1330.1,1141.2 1336.0,1141.9 1341.9,1142.0 1347.8,1141.3 1353.8,1140.1 1359.7,1139.0 1365.6,1138.0 1371.5,1137.0 1377.4,1136.6 1383.4,1136.6 1389.3,1137.1 1395.2,1139.7 1401.1,1143.5 1407.0,1147.2 1413.0,1150.2 1418.9,1153.1 1424.8,1156.1 1430.7,1159.3 1436.7,1162.6 1442.6,1165.4 1448.5,1167.6 1454.4,1168.7 1460.3,1169.3 1466.3,1169.8 1472.2,1169.9 1478.1,1169.3 1484.0,1167.7 1490.0,1165.3 1495.9,1162.6 1501.8,1159.8 1507.7,1157.4 1513.6,1155.6 1519.6,1154.1 1525.5,1152.8 1531.4,1151.5 1537.3,1151.3 1543.3,1152.1 1549.2,1152.9 1555.1,1154.1 1561.0,1155.1 1566.9,1156.0 1572.9,1156.3 1578.8,1155.6 1584.7,1154.7 1590.6,1153.8 1596.6,1153.2 1602.5,1153.0 1608.4,1153.1 1614.3,1153.5 1620.2,1154.2 1626.2,1154.7 1632.1,1155.6 1638.0,1157.1 1643.9,1159.0 1649.9,1161.0 1655.8,1162.5 1661.7,1162.8 1667.6,1162.4 1673.5,1161.3 1679.5,1160.0 1685.4,1158.6 1691.3,1157.1 1697.2,1155.8 1703.1,1155.1 1709.1,1154.3 1715.0,1153.2 1720.9,1152.4 1726.8,1152.0 1732.8,1151.9 1738.7,1151.9 1744.6,1151.7 1750.5,1151.4 1756.4,1151.1 1762.4,1151.0"/>
</g>
<text x="36.8" y="1115.6" font-size="24" fill="#131722" textLength="235.2" lengthAdjust="spacingAndGlyphs">MACD (12, 26, close)</text>
<text x="288.0" y="1115.6" font-size="24" fill="#B2DFDB" textLength="79.0" lengthAdjust="spacingAndGlyphs">0.0009</text>
<text x="383.6" y="1115.6" font-size="24" fill="#2962FF" textLength="93.4" lengthAdjust="spacingAndGlyphs">−0.0584</text>
<text x="492.7" y="1115.6" font-size="24" fill="#F23645" textLength="93.3" lengthAdjust="spacingAndGlyphs">−0.0593</text>
<rect x="1994.5" y="62.5" width="127" height="51" rx="8" fill="#fff" stroke="#E9ECF2" stroke-width="1.5"/>
<text x="2013.0" y="96.2" font-size="24" fill="#131722" textLength="62.8" lengthAdjust="spacingAndGlyphs">USDT</text>
<text x="2005.3" y="147.0" font-size="24" fill="#131722" textLength="79.8" lengthAdjust="spacingAndGlyphs">4.0000</text>
<text x="2005.3" y="276.5" font-size="24" fill="#131722" textLength="79.8" lengthAdjust="spacingAndGlyphs">3.5000</text>
<text x="2005.3" y="406.5" font-size="24" fill="#131722" textLength="79.8" lengthAdjust="spacingAndGlyphs">3.0000</text>
<path d="M1988 210 H2094 Q2098 210 2098 214 V240 Q2098 244 2094 244 H1988 Z" fill="#000000"/>
<text x="2005.5" y="235.3" font-size="24" fill="#ffffff" textLength="79.5" lengthAdjust="spacingAndGlyphs">3.6600</text>
<path d="M1988 278 H2094 Q2098 278 2098 282 V308 Q2098 312 2094 312 H1988 Z" fill="#000000"/>
<text x="2005.5" y="303.3" font-size="24" fill="#ffffff" textLength="79.5" lengthAdjust="spacingAndGlyphs">3.4000</text>
<path d="M1988 474 H2094 Q2098 474 2098 478 V504 Q2098 508 2094 508 H1988 Z" fill="#9C27B0"/>
<text x="2005.5" y="499.3" font-size="24" fill="#ffffff" textLength="79.5" lengthAdjust="spacingAndGlyphs">2.4650</text>
<path d="M1988 508 H2094 Q2098 508 2098 512 V538 Q2098 542 2094 542 H1988 Z" fill="#2962FF"/>
<text x="2005.5" y="533.3" font-size="24" fill="#ffffff" textLength="79.5" lengthAdjust="spacingAndGlyphs">2.4125</text>
<path d="M1988 542 H2094 Q2098 542 2098 546 V572 Q2098 576 2094 576 H1988 Z" fill="#F23645"/>
<text x="2005.5" y="567.3" font-size="24" fill="#ffffff" textLength="79.5" lengthAdjust="spacingAndGlyphs">2.2904</text>
<path d="M1988 576 H2094 Q2098 576 2098 580 V606 Q2098 610 2094 610 H1988 Z" fill="#FF2525"/>
<text x="2005.5" y="601.3" font-size="24" fill="#ffffff" textLength="79.5" lengthAdjust="spacingAndGlyphs">2.2494</text>
<path d="M1988 639.3 H2116 Q2120 639.3 2120 643.3 V696.7 Q2120 700.7 2116 700.7 H1988 Z" fill="#EF5350"/>
<text x="2005.5" y="664.8" font-size="24" fill="#ffffff" textLength="79.5" lengthAdjust="spacingAndGlyphs">2.0056</text>
<text x="2005.5" y="692.5" font-size="24" fill="#FDE3E3" textLength="103.0" lengthAdjust="spacingAndGlyphs">11:51:46</text>
<path d="M1988 701 H2094 Q2098 701 2098 705 V730 Q2098 734 2094 734 H1988 Z" fill="#000000"/>
<text x="2005.5" y="725.8" font-size="24" fill="#ffffff" textLength="79.5" lengthAdjust="spacingAndGlyphs">1.9800</text>
<path d="M1988 735 H2094 Q2098 735 2098 739 V764 Q2098 768 2094 768 H1988 Z" fill="#000000"/>
<text x="2005.5" y="759.8" font-size="24" fill="#ffffff" textLength="79.5" lengthAdjust="spacingAndGlyphs">1.8224</text>
<path d="M1988 769 H2094 Q2098 769 2098 773 V799 Q2098 803 2094 803 H1988 Z" fill="#000000"/>
<text x="2005.5" y="794.3" font-size="24" fill="#ffffff" textLength="79.5" lengthAdjust="spacingAndGlyphs">1.6141</text>
<path d="M1988 834 H2094 Q2098 834 2098 838 V864 Q2098 868 2094 868 H1988 Z" fill="#000000"/>
<text x="2005.5" y="859.3" font-size="24" fill="#ffffff" textLength="79.5" lengthAdjust="spacingAndGlyphs">1.2575</text>
<clipPath id="cpVol"><rect x="1988" y="860" width="140" height="29"/></clipPath>
<g clip-path="url(#cpVol)">
<path d="M1988 868 H2102 Q2106 868 2106 872 V898 Q2106 902 2102 902 H1988 Z" fill="#EF5350"/>
<text x="2005.5" y="893.3" font-size="24" fill="#ffffff" textLength="93.0" lengthAdjust="spacingAndGlyphs">53.64M</text>
</g>
<text x="2005.5" y="929.5" font-size="24" fill="#131722" textLength="65.0" lengthAdjust="spacingAndGlyphs">80.00</text>
<path d="M1988 953 H2078 Q2082 953 2082 957 V983 Q2082 987 2078 987 H1988 Z" fill="#FDD835"/>
<text x="2005.5" y="978.3" font-size="24" fill="#131722" textLength="65.0" lengthAdjust="spacingAndGlyphs">43.89</text>
<path d="M1988 987 H2078 Q2082 987 2082 991 V1016.5 Q2082 1020.5 2078 1020.5 H1988 Z" fill="#7E57C2"/>
<text x="2005.5" y="1012.0" font-size="24" fill="#ffffff" textLength="65.0" lengthAdjust="spacingAndGlyphs">40.60</text>
<path d="M1988 1117 H2094 Q2098 1117 2098 1121 V1146.5 Q2098 1150.5 2094 1150.5 H1988 Z" fill="#B2DFDB"/>
<text x="2005.5" y="1142.0" font-size="24" fill="#131722" textLength="79.5" lengthAdjust="spacingAndGlyphs">0.0009</text>
<path d="M1988 1150.5 H2108 Q2112 1150.5 2112 1154.5 V1181 Q2112 1185 2108 1185 H1988 Z" fill="#2962FF"/>
<text x="2005.5" y="1176.0" font-size="24" fill="#ffffff" textLength="93.0" lengthAdjust="spacingAndGlyphs">−0.0584</text>
<path d="M1988 1185 H2108 Q2112 1185 2112 1189 V1215 Q2112 1219 2108 1219 H1988 Z" fill="#F23645"/>
<text x="2005.5" y="1210.3" font-size="24" fill="#ffffff" textLength="93.0" lengthAdjust="spacingAndGlyphs">−0.0593</text>
<text x="74.6" y="1287.0" font-size="24" fill="#131722" text-anchor="middle">Mar</text>
<text x="258.2" y="1287.0" font-size="24" fill="#131722" text-anchor="middle">Apr</text>
<text x="435.8" y="1287.0" font-size="24" fill="#131722" text-anchor="middle">May</text>
<text x="619.4" y="1287.0" font-size="24" fill="#131722" text-anchor="middle">Jun</text>
<text x="797.1" y="1287.0" font-size="24" fill="#131722" text-anchor="middle">Jul</text>
<text x="980.7" y="1287.0" font-size="24" fill="#131722" text-anchor="middle">Aug</text>
<text x="1164.2" y="1287.0" font-size="24" fill="#131722" text-anchor="middle">Sep</text>
<text x="1341.9" y="1287.0" font-size="24" fill="#131722" text-anchor="middle">Oct</text>
<text x="1525.5" y="1287.0" font-size="24" fill="#131722" text-anchor="middle">Nov</text>
<text x="1703.1" y="1287.0" font-size="24" fill="#131722" text-anchor="middle">Dec</text>
<text x="1855.5" y="1287.0" font-size="25" fill="#131722" textLength="61.5" lengthAdjust="spacingAndGlyphs" font-weight="bold">2026</text>
<path d="M24 1348.2 H47.9 V1377.8 H35.9 V1360 H24 Z" fill="#131313"/>
<circle cx="58" cy="1353.7" r="5.9" fill="#131313"/>
<path d="M69.6 1348.2 H83.5 L71.9 1377.8 H58 Z" fill="#131313"/>
<text x="98.0" y="1377.8" font-size="42" fill="#131313" textLength="242.0" lengthAdjust="spacingAndGlyphs" font-weight="bold">TradingView</text>
</svg></body></html>
